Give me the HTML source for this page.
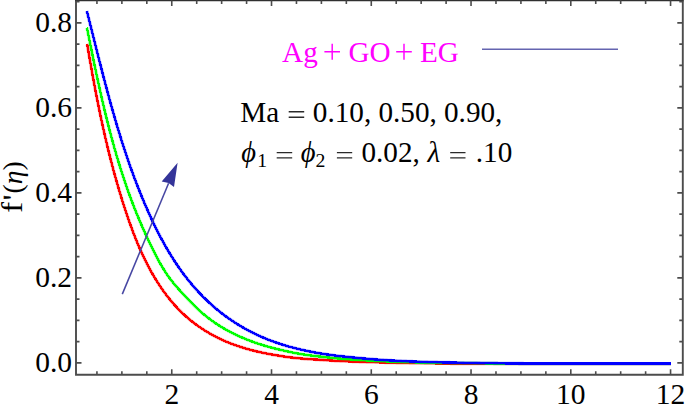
<!DOCTYPE html>
<html><head><meta charset="utf-8"><style>
html,body{margin:0;padding:0;background:#fff;}
svg{display:block;font-family:"Liberation Serif",serif;}
</style></head><body>
<svg width="685" height="405" viewBox="0 0 685 405">
<path d="M76.0,0.4V374.8H682.8V0.4" fill="none" stroke="#4c4c4c" stroke-width="1.9"/>
<path d="M75.05,0.4H683.75" fill="none" stroke="#303030" stroke-width="1.9"/>
<path d="M96.94,374.8v-3.5M96.94,0.4v3.5M121.88,374.8v-3.5M121.88,0.4v3.5M146.82,374.8v-3.5M146.82,0.4v3.5M171.76,374.8v-5.5M171.76,0.4v5.5M196.70,374.8v-3.5M196.70,0.4v3.5M221.64,374.8v-3.5M221.64,0.4v3.5M246.58,374.8v-3.5M246.58,0.4v3.5M271.52,374.8v-5.5M271.52,0.4v5.5M296.46,374.8v-3.5M296.46,0.4v3.5M321.40,374.8v-3.5M321.40,0.4v3.5M346.34,374.8v-3.5M346.34,0.4v3.5M371.28,374.8v-5.5M371.28,0.4v5.5M396.22,374.8v-3.5M396.22,0.4v3.5M421.16,374.8v-3.5M421.16,0.4v3.5M446.10,374.8v-3.5M446.10,0.4v3.5M471.04,374.8v-5.5M471.04,0.4v5.5M495.98,374.8v-3.5M495.98,0.4v3.5M520.92,374.8v-3.5M520.92,0.4v3.5M545.86,374.8v-3.5M545.86,0.4v3.5M570.80,374.8v-5.5M570.80,0.4v5.5M595.74,374.8v-3.5M595.74,0.4v3.5M620.68,374.8v-3.5M620.68,0.4v3.5M645.62,374.8v-3.5M645.62,0.4v3.5M670.56,374.8v-5.5M670.56,0.4v5.5M76.0,362.90h5.5M682.8,362.90h-5.5M76.0,341.65h3.5M682.8,341.65h-3.5M76.0,320.40h3.5M682.8,320.40h-3.5M76.0,299.15h3.5M682.8,299.15h-3.5M76.0,277.90h5.5M682.8,277.90h-5.5M76.0,256.65h3.5M682.8,256.65h-3.5M76.0,235.40h3.5M682.8,235.40h-3.5M76.0,214.15h3.5M682.8,214.15h-3.5M76.0,192.90h5.5M682.8,192.90h-5.5M76.0,171.65h3.5M682.8,171.65h-3.5M76.0,150.40h3.5M682.8,150.40h-3.5M76.0,129.15h3.5M682.8,129.15h-3.5M76.0,107.90h5.5M682.8,107.90h-5.5M76.0,86.65h3.5M682.8,86.65h-3.5M76.0,65.40h3.5M682.8,65.40h-3.5M76.0,44.15h3.5M682.8,44.15h-3.5M76.0,22.90h5.5M682.8,22.90h-5.5M76.0,1.65h3.5M682.8,1.65h-3.5" stroke="#4c4c4c" stroke-width="1.6" fill="none"/>
<path d="M86.80,44.10 L87.29,44.84 L87.44,45.71 L87.59,46.58 L87.73,47.46 L87.88,48.33 L88.03,49.20 L88.18,50.07 L88.33,50.94 L88.48,51.81 L88.63,52.68 L88.78,53.55 L88.93,54.42 L89.08,55.28 L89.23,56.15 L89.38,57.02 L89.53,57.89 L89.68,58.76 L89.83,59.63 L89.98,60.50 L90.13,61.37 L90.29,62.23 L90.44,63.10 L90.59,63.97 L90.75,64.84 L90.90,65.70 L91.05,66.57 L91.21,67.44 L91.36,68.31 L91.52,69.17 L91.67,70.04 L91.83,70.90 L91.98,71.77 L92.14,72.64 L92.30,73.50 L92.45,74.37 L92.61,75.23 L92.77,76.10 L92.93,76.96 L93.09,77.83 L93.25,78.69 L93.40,79.56 L93.56,80.42 L93.72,81.29 L93.88,82.15 L94.05,83.02 L94.21,83.88 L94.37,84.74 L94.53,85.61 L94.69,86.47 L94.86,87.33 L95.02,88.20 L95.18,89.06 L95.35,89.92 L95.51,90.78 L95.68,91.65 L95.84,92.51 L96.01,93.37 L96.18,94.23 L96.35,95.09 L96.51,95.96 L96.68,96.82 L96.85,97.68 L97.02,98.54 L97.19,99.40 L97.36,100.26 L97.53,101.12 L97.70,101.98 L97.87,102.84 L98.04,103.70 L98.22,104.56 L98.39,105.42 L98.56,106.28 L98.74,107.14 L98.91,108.00 L99.09,108.86 L99.26,109.72 L99.44,110.57 L99.62,111.43 L99.80,112.29 L99.97,113.15 L100.15,114.01 L100.33,114.86 L100.51,115.72 L100.69,116.58 L100.87,117.44 L101.06,118.29 L101.24,119.15 L101.42,120.01 L101.61,120.86 L101.79,121.72 L101.97,122.57 L102.16,123.43 L102.35,124.29 L102.53,125.14 L102.72,126.00 L102.91,126.85 L103.10,127.71 L103.29,128.56 L103.48,129.42 L103.67,130.27 L103.86,131.12 L104.05,131.98 L104.24,132.83 L104.44,133.69 L104.63,134.54 L104.83,135.39 L105.02,136.25 L105.22,137.10 L105.41,137.95 L105.61,138.80 L105.81,139.66 L106.01,140.51 L106.21,141.36 L106.41,142.21 L106.61,143.07 L106.81,143.92 L107.02,144.77 L107.22,145.62 L107.42,146.47 L107.63,147.32 L107.84,148.17 L108.04,149.02 L108.25,149.87 L108.46,150.72 L108.67,151.57 L108.88,152.42 L109.09,153.27 L109.30,154.12 L109.51,154.97 L109.72,155.82 L109.94,156.67 L110.15,157.52 L110.37,158.36 L110.58,159.21 L110.80,160.06 L111.02,160.91 L111.24,161.76 L111.46,162.60 L111.68,163.45 L111.90,164.30 L112.12,165.15 L112.34,165.99 L112.57,166.84 L112.79,167.69 L113.02,168.53 L113.24,169.38 L113.47,170.22 L113.70,171.07 L113.93,171.91 L114.16,172.76 L114.39,173.60 L114.62,174.45 L114.85,175.29 L115.09,176.14 L115.32,176.98 L115.56,177.83 L115.79,178.67 L116.03,179.52 L116.27,180.36 L116.51,181.20 L116.75,182.05 L116.99,182.89 L117.23,183.73 L117.47,184.57 L117.72,185.42 L117.96,186.26 L118.21,187.10 L118.46,187.94 L118.70,188.78 L118.95,189.63 L119.20,190.47 L119.45,191.31 L119.71,192.15 L119.96,192.99 L120.21,193.83 L120.47,194.67 L120.72,195.51 L120.98,196.35 L121.24,197.19 L121.50,198.03 L121.76,198.87 L122.02,199.71 L122.28,200.55 L122.55,201.39 L122.81,202.22 L123.08,203.06 L123.34,203.90 L123.61,204.74 L123.88,205.58 L124.15,206.41 L124.42,207.25 L124.69,208.09 L124.96,208.93 L125.24,209.76 L125.51,210.60 L125.79,211.44 L126.07,212.27 L126.35,213.11 L126.63,213.94 L126.91,214.78 L127.19,215.61 L127.47,216.45 L127.76,217.28 L128.05,218.12 L128.33,218.95 L128.62,219.78 L128.91,220.62 L129.20,221.45 L129.50,222.28 L129.79,223.11 L130.09,223.94 L130.39,224.77 L130.69,225.60 L130.99,226.43 L131.29,227.26 L131.59,228.09 L131.90,228.92 L132.21,229.75 L132.52,230.57 L132.83,231.40 L133.14,232.22 L133.45,233.05 L133.77,233.87 L134.09,234.69 L134.41,235.51 L134.73,236.34 L135.05,237.16 L135.38,237.98 L135.70,238.79 L136.03,239.61 L136.36,240.43 L136.70,241.24 L137.03,242.06 L137.37,242.87 L137.71,243.69 L138.05,244.50 L138.39,245.31 L138.74,246.12 L139.08,246.93 L139.43,247.74 L139.78,248.54 L140.14,249.35 L140.49,250.15 L140.85,250.96 L141.21,251.76 L141.58,252.56 L141.94,253.36 L142.31,254.16 L142.68,254.96 L143.05,255.76 L143.43,256.55 L143.81,257.34 L144.19,258.14 L144.57,258.93 L144.95,259.72 L145.34,260.51 L145.73,261.29 L146.12,262.08 L146.52,262.86 L146.92,263.65 L147.32,264.43 L147.72,265.21 L148.13,265.99 L148.53,266.76 L148.95,267.54 L149.36,268.31 L149.78,269.08 L150.20,269.85 L150.62,270.62 L151.05,271.39 L151.47,272.16 L151.91,272.92 L152.34,273.68 L152.78,274.44 L153.22,275.20 L153.66,275.96 L154.11,276.71 L154.56,277.47 L155.01,278.22 L155.47,278.97 L155.92,279.72 L156.39,280.46 L156.85,281.21 L157.32,281.95 L157.79,282.69 L158.27,283.43 L158.74,284.17 L159.22,284.90 L159.71,285.63 L160.20,286.36 L160.69,287.09 L161.18,287.81 L161.68,288.54 L162.18,289.26 L162.69,289.97 L163.19,290.69 L163.70,291.40 L164.22,292.11 L164.74,292.82 L165.26,293.53 L165.78,294.23 L166.31,294.93 L166.84,295.63 L167.38,296.32 L167.91,297.01 L168.46,297.70 L169.00,298.38 L169.55,299.07 L170.10,299.75 L170.66,300.42 L171.22,301.10 L171.78,301.76 L172.35,302.43 L172.92,303.09 L173.49,303.76 L174.07,304.41 L174.65,305.07 L175.24,305.71 L175.83,306.36 L176.42,307.00 L177.01,307.64 L177.61,308.28 L178.22,308.91 L178.82,309.54 L179.43,310.16 L180.05,310.78 L180.67,311.40 L181.29,312.01 L181.92,312.62 L182.54,313.23 L183.18,313.83 L183.82,314.43 L184.46,315.02 L185.10,315.61 L185.75,316.19 L186.40,316.77 L187.06,317.35 L187.72,317.92 L188.39,318.49 L189.05,319.05 L189.72,319.61 L190.40,320.17 L191.08,320.72 L191.76,321.27 L192.45,321.81 L193.14,322.35 L193.83,322.88 L194.52,323.41 L195.22,323.94 L195.93,324.46 L196.63,324.98 L197.34,325.49 L198.05,326.00 L198.77,326.50 L199.49,327.00 L200.21,327.50 L200.93,327.99 L201.66,328.47 L202.39,328.95 L203.13,329.43 L203.86,329.91 L204.60,330.38 L205.35,330.84 L206.09,331.30 L206.84,331.76 L207.59,332.21 L208.34,332.65 L209.10,333.10 L209.86,333.53 L210.62,333.97 L211.38,334.40 L212.15,334.82 L212.92,335.24 L213.69,335.66 L214.46,336.07 L215.24,336.47 L216.02,336.88 L216.80,337.27 L217.58,337.67 L218.37,338.05 L219.16,338.44 L219.94,338.82 L220.74,339.19 L221.53,339.56 L222.33,339.93 L223.12,340.29 L223.92,340.64 L224.73,341.00 L225.53,341.34 L226.34,341.69 L227.14,342.02 L227.95,342.36 L228.76,342.69 L229.58,343.01 L230.39,343.33 L231.21,343.65 L232.03,343.96 L232.85,344.27 L233.67,344.57 L234.49,344.87 L235.32,345.16 L236.14,345.45 L236.97,345.74 L237.80,346.02 L238.63,346.30 L239.46,346.58 L240.30,346.85 L241.13,347.12 L241.97,347.38 L242.80,347.64 L243.64,347.89 L244.48,348.15 L245.33,348.40 L246.17,348.64 L247.01,348.88 L247.86,349.12 L248.70,349.35 L249.55,349.59 L250.40,349.81 L251.25,350.04 L252.10,350.26 L252.95,350.48 L253.81,350.69 L254.66,350.90 L255.51,351.11 L256.37,351.32 L257.23,351.52 L258.08,351.72 L258.94,351.91 L259.80,352.11 L260.66,352.30 L261.52,352.48 L262.38,352.67 L263.24,352.85 L264.11,353.03 L264.97,353.20 L265.83,353.38 L266.70,353.55 L267.56,353.72 L268.43,353.88 L269.29,354.05 L270.16,354.21 L271.03,354.37 L271.89,354.52 L272.76,354.68 L273.63,354.83 L274.50,354.98 L275.37,355.12 L276.24,355.27 L277.11,355.41 L277.98,355.55 L278.85,355.69 L279.71,355.83 L280.58,355.97 L281.46,356.11 L282.33,356.25 L283.20,356.38 L284.07,356.51 L284.94,356.64 L285.81,356.77 L286.68,356.89 L287.55,357.01 L288.42,357.13 L289.29,357.24 L290.16,357.35 L291.04,357.46 L291.91,357.56 L292.78,357.66 L293.65,357.76 L294.52,357.85 L295.40,357.94 L296.27,358.03 L297.14,358.12 L298.01,358.21 L298.89,358.29 L299.76,358.37 L300.63,358.45 L301.50,358.53 L302.38,358.60 L303.25,358.67 L304.12,358.74 L305.00,358.81 L305.87,358.88 L306.74,358.94 L307.62,359.01 L308.49,359.07 L309.37,359.13 L310.24,359.18 L311.11,359.24 L311.99,359.30 L312.86,359.35 L313.74,359.40 L314.61,359.46 L315.49,359.51 L316.36,359.56 L317.24,359.61 L318.11,359.66 L318.99,359.71 L319.86,359.76 L320.74,359.82 L321.61,359.88 L322.49,359.94 L323.36,360.00 L324.24,360.06 L325.11,360.12 L325.99,360.18 L326.86,360.24 L327.74,360.30 L328.62,360.36 L329.49,360.41 L330.37,360.47 L331.24,360.52 L332.12,360.58 L333.00,360.63 L333.87,360.68 L334.75,360.73 L335.63,360.78 L336.50,360.83 L337.38,360.88 L338.26,360.92 L339.13,360.96 L340.01,361.00 L340.89,361.04 L341.76,361.08 L342.64,361.11 L343.52,361.15 L344.39,361.19 L345.27,361.23 L346.15,361.26 L347.02,361.30 L347.90,361.33 L348.78,361.37 L349.66,361.40 L350.53,361.44 L351.41,361.47 L352.29,361.50 L353.17,361.54 L354.04,361.57 L354.92,361.60 L355.80,361.63 L356.68,361.66 L357.55,361.69 L358.43,361.72 L359.31,361.76 L360.19,361.78 L361.07,361.81 L361.94,361.84 L362.82,361.87 L363.70,361.90 L364.58,361.93 L365.45,361.96 L366.33,361.98 L367.21,362.01 L368.09,362.04 L368.97,362.06 L369.85,362.09 L370.72,362.12 L371.60,362.14 L372.48,362.17 L373.36,362.19 L374.24,362.22 L375.11,362.24 L375.99,362.26 L376.87,362.29 L377.75,362.31 L378.63,362.33 L379.51,362.36 L380.38,362.38 L381.26,362.40 L382.14,362.42 L383.02,362.44 L383.90,362.46 L384.77,362.48 L385.65,362.50 L386.53,362.52 L387.41,362.54 L388.29,362.56 L389.17,362.58 L390.04,362.60 L390.92,362.62 L391.80,362.64 L392.68,362.66 L393.56,362.68 L394.44,362.69 L395.31,362.71 L396.19,362.73 L397.07,362.75 L397.95,362.77 L398.83,362.78 L399.70,362.80 L400.58,362.82 L401.46,362.84 L402.34,362.85 L403.22,362.87 L404.09,362.89 L404.97,362.91 L405.85,362.92 L406.73,362.94 L407.61,362.96 L408.49,362.97 L409.36,362.99 L410.24,363.00 L411.12,363.02 L412.00,363.03 L412.88,363.05 L413.75,363.07 L414.63,363.08 L415.51,363.10 L416.39,363.11 L417.27,363.12 L418.14,363.14 L419.02,363.15 L419.90,363.17 L420.78,363.18 L421.66,363.19 L422.53,363.20 L423.41,363.22 L424.29,363.23 L425.17,363.24 L426.05,363.25 L426.92,363.27 L427.80,363.28 L428.68,363.29 L429.56,363.30 L430.44,363.31 L431.31,363.32 L432.19,363.33 L433.07,363.34 L433.95,363.35 L434.83,363.36 L435.70,363.36 L436.58,363.37 L437.46,363.38 L438.34,363.39 L439.21,363.39 L440.09,363.40 L440.97,363.41 L441.85,363.41 L442.73,363.42 L443.60,363.43 L444.48,363.43 L445.36,363.44 L446.24,363.45 L447.12,363.45 L447.99,363.46 L448.87,363.47 L449.75,363.47 L450.63,363.48 L451.51,363.48 L452.38,363.49 L453.26,363.50 L454.14,363.50 L455.02,363.51 L455.89,363.51 L456.77,363.52 L457.65,363.52 L458.53,363.53 L459.41,363.53 L460.28,363.54 L461.16,363.54 L462.04,363.55 L462.92,363.55 L463.79,363.56 L464.67,363.56 L465.55,363.57 L466.43,363.57 L467.31,363.57 L468.18,363.58 L469.06,363.58 L469.94,363.58 L470.82,363.59 L471.69,363.59 L472.57,363.59 L473.45,363.59 L474.33,363.59 L475.21,363.60 L476.08,363.60 L476.96,363.60 L477.84,363.60 L478.72,363.60 L479.59,363.60 L480.47,363.60 L481.35,363.60 L482.23,363.60 L483.11,363.60 L483.98,363.60 L484.86,363.60 L485.74,363.60 L486.62,363.60 L487.49,363.60 L488.37,363.60 L489.25,363.60 L490.13,363.60 L491.01,363.60 L491.88,363.60 L492.76,363.60 L493.64,363.60 L494.52,363.60 L495.39,363.60 L496.27,363.60 L497.15,363.60 L498.03,363.60 L498.91,363.60 L499.78,363.60 L500.66,363.60 L501.54,363.60 L502.42,363.60 L503.29,363.60 L504.17,363.60 L505.05,363.60 L505.93,363.60 L506.80,363.60 L507.68,363.60 L508.56,363.60 L509.44,363.60 L510.32,363.60 L511.19,363.60 L512.07,363.60 L512.95,363.60 L513.83,363.60 L514.70,363.60 L515.58,363.60 L516.46,363.60 L517.34,363.60 L518.22,363.60 L519.09,363.60 L519.97,363.60 L520.85,363.60 L521.73,363.60 L522.60,363.60 L523.48,363.60 L524.36,363.60 L525.24,363.60 L526.12,363.60 L526.99,363.60 L527.87,363.60 L528.75,363.60 L529.63,363.60 L530.50,363.60 L531.38,363.60 L532.26,363.60 L533.14,363.60 L534.01,363.60 L534.89,363.60 L535.77,363.60 L536.65,363.60 L537.53,363.60 L538.40,363.60 L539.28,363.60 L540.16,363.60 L541.04,363.60 L541.91,363.60 L542.79,363.60 L543.67,363.60 L544.55,363.60 L545.43,363.60 L546.30,363.60 L547.18,363.60 L548.06,363.60 L548.94,363.60 L549.82,363.60 L550.69,363.60 L551.57,363.60 L552.45,363.60 L553.33,363.60 L554.20,363.60 L555.08,363.60 L555.96,363.60 L556.84,363.60 L557.72,363.60 L558.59,363.60 L559.47,363.60 L560.35,363.60 L561.23,363.60 L562.10,363.60 L562.98,363.60 L563.86,363.60 L564.74,363.60 L565.62,363.60 L566.49,363.60 L567.37,363.60 L568.25,363.60 L569.13,363.60 L570.01,363.60 L570.88,363.60 L571.76,363.60 L572.64,363.60 L573.52,363.60 L574.39,363.60 L575.27,363.60 L576.15,363.60 L577.03,363.60 L577.91,363.60 L578.78,363.60 L579.66,363.60 L580.54,363.60 L581.42,363.60 L582.30,363.60 L583.17,363.60 L584.05,363.60 L584.93,363.60 L585.81,363.60 L586.69,363.60 L587.56,363.60 L588.44,363.60 L589.32,363.60 L590.20,363.60 L591.08,363.60 L591.95,363.60 L592.83,363.60 L593.71,363.60 L594.59,363.60 L595.47,363.60 L596.34,363.60 L597.22,363.60 L598.10,363.60 L598.98,363.60 L599.86,363.60 L600.73,363.60 L601.61,363.60 L602.49,363.60 L603.37,363.60 L604.25,363.60 L605.12,363.60 L606.00,363.60 L606.88,363.60 L607.76,363.60 L608.64,363.60 L609.51,363.60 L610.39,363.60 L611.27,363.60 L612.15,363.60 L613.03,363.60 L613.91,363.60 L614.78,363.60 L615.66,363.60 L616.54,363.60 L617.42,363.60 L618.30,363.60 L619.17,363.60 L620.05,363.60 L620.93,363.60 L621.81,363.60 L622.69,363.60 L623.57,363.60 L624.44,363.60 L625.32,363.60 L626.20,363.60 L627.08,363.60 L627.96,363.60 L628.83,363.60 L629.71,363.60 L630.59,363.60 L631.47,363.60 L632.35,363.60 L633.23,363.60 L634.10,363.60 L634.98,363.60 L635.86,363.60 L636.74,363.60 L637.62,363.60 L638.50,363.60 L639.37,363.60 L640.25,363.60 L641.13,363.60 L642.01,363.60 L642.89,363.60 L643.77,363.60 L644.64,363.60 L645.52,363.60 L646.40,363.60 L647.28,363.60 L648.16,363.60 L649.04,363.60 L649.92,363.60 L650.79,363.60 L651.67,363.60 L652.55,363.60 L653.43,363.60 L654.31,363.60 L655.19,363.60 L656.06,363.60 L656.94,363.60 L657.82,363.60 L658.70,363.60 L659.58,363.60 L660.46,363.60 L661.34,363.60 L662.21,363.60 L663.09,363.60 L663.97,363.60 L664.85,363.60 L665.73,363.60 L666.61,363.60 L667.49,363.60 L668.37,363.60 L669.24,363.60 L670.12,363.60 L671.00,363.60" stroke="#ff0000" stroke-width="3.3" stroke-opacity="0.4" fill="none" stroke-linejoin="round"/>
<path d="M86.80,44.10 L87.29,44.84 L87.44,45.71 L87.59,46.58 L87.73,47.46 L87.88,48.33 L88.03,49.20 L88.18,50.07 L88.33,50.94 L88.48,51.81 L88.63,52.68 L88.78,53.55 L88.93,54.42 L89.08,55.28 L89.23,56.15 L89.38,57.02 L89.53,57.89 L89.68,58.76 L89.83,59.63 L89.98,60.50 L90.13,61.37 L90.29,62.23 L90.44,63.10 L90.59,63.97 L90.75,64.84 L90.90,65.70 L91.05,66.57 L91.21,67.44 L91.36,68.31 L91.52,69.17 L91.67,70.04 L91.83,70.90 L91.98,71.77 L92.14,72.64 L92.30,73.50 L92.45,74.37 L92.61,75.23 L92.77,76.10 L92.93,76.96 L93.09,77.83 L93.25,78.69 L93.40,79.56 L93.56,80.42 L93.72,81.29 L93.88,82.15 L94.05,83.02 L94.21,83.88 L94.37,84.74 L94.53,85.61 L94.69,86.47 L94.86,87.33 L95.02,88.20 L95.18,89.06 L95.35,89.92 L95.51,90.78 L95.68,91.65 L95.84,92.51 L96.01,93.37 L96.18,94.23 L96.35,95.09 L96.51,95.96 L96.68,96.82 L96.85,97.68 L97.02,98.54 L97.19,99.40 L97.36,100.26 L97.53,101.12 L97.70,101.98 L97.87,102.84 L98.04,103.70 L98.22,104.56 L98.39,105.42 L98.56,106.28 L98.74,107.14 L98.91,108.00 L99.09,108.86 L99.26,109.72 L99.44,110.57 L99.62,111.43 L99.80,112.29 L99.97,113.15 L100.15,114.01 L100.33,114.86 L100.51,115.72 L100.69,116.58 L100.87,117.44 L101.06,118.29 L101.24,119.15 L101.42,120.01 L101.61,120.86 L101.79,121.72 L101.97,122.57 L102.16,123.43 L102.35,124.29 L102.53,125.14 L102.72,126.00 L102.91,126.85 L103.10,127.71 L103.29,128.56 L103.48,129.42 L103.67,130.27 L103.86,131.12 L104.05,131.98 L104.24,132.83 L104.44,133.69 L104.63,134.54 L104.83,135.39 L105.02,136.25 L105.22,137.10 L105.41,137.95 L105.61,138.80 L105.81,139.66 L106.01,140.51 L106.21,141.36 L106.41,142.21 L106.61,143.07 L106.81,143.92 L107.02,144.77 L107.22,145.62 L107.42,146.47 L107.63,147.32 L107.84,148.17 L108.04,149.02 L108.25,149.87 L108.46,150.72 L108.67,151.57 L108.88,152.42 L109.09,153.27 L109.30,154.12 L109.51,154.97 L109.72,155.82 L109.94,156.67 L110.15,157.52 L110.37,158.36 L110.58,159.21 L110.80,160.06 L111.02,160.91 L111.24,161.76 L111.46,162.60 L111.68,163.45 L111.90,164.30 L112.12,165.15 L112.34,165.99 L112.57,166.84 L112.79,167.69 L113.02,168.53 L113.24,169.38 L113.47,170.22 L113.70,171.07 L113.93,171.91 L114.16,172.76 L114.39,173.60 L114.62,174.45 L114.85,175.29 L115.09,176.14 L115.32,176.98 L115.56,177.83 L115.79,178.67 L116.03,179.52 L116.27,180.36 L116.51,181.20 L116.75,182.05 L116.99,182.89 L117.23,183.73 L117.47,184.57 L117.72,185.42 L117.96,186.26 L118.21,187.10 L118.46,187.94 L118.70,188.78 L118.95,189.63 L119.20,190.47 L119.45,191.31 L119.71,192.15 L119.96,192.99 L120.21,193.83 L120.47,194.67 L120.72,195.51 L120.98,196.35 L121.24,197.19 L121.50,198.03 L121.76,198.87 L122.02,199.71 L122.28,200.55 L122.55,201.39 L122.81,202.22 L123.08,203.06 L123.34,203.90 L123.61,204.74 L123.88,205.58 L124.15,206.41 L124.42,207.25 L124.69,208.09 L124.96,208.93 L125.24,209.76 L125.51,210.60 L125.79,211.44 L126.07,212.27 L126.35,213.11 L126.63,213.94 L126.91,214.78 L127.19,215.61 L127.47,216.45 L127.76,217.28 L128.05,218.12 L128.33,218.95 L128.62,219.78 L128.91,220.62 L129.20,221.45 L129.50,222.28 L129.79,223.11 L130.09,223.94 L130.39,224.77 L130.69,225.60 L130.99,226.43 L131.29,227.26 L131.59,228.09 L131.90,228.92 L132.21,229.75 L132.52,230.57 L132.83,231.40 L133.14,232.22 L133.45,233.05 L133.77,233.87 L134.09,234.69 L134.41,235.51 L134.73,236.34 L135.05,237.16 L135.38,237.98 L135.70,238.79 L136.03,239.61 L136.36,240.43 L136.70,241.24 L137.03,242.06 L137.37,242.87 L137.71,243.69 L138.05,244.50 L138.39,245.31 L138.74,246.12 L139.08,246.93 L139.43,247.74 L139.78,248.54 L140.14,249.35 L140.49,250.15 L140.85,250.96 L141.21,251.76 L141.58,252.56 L141.94,253.36 L142.31,254.16 L142.68,254.96 L143.05,255.76 L143.43,256.55 L143.81,257.34 L144.19,258.14 L144.57,258.93 L144.95,259.72 L145.34,260.51 L145.73,261.29 L146.12,262.08 L146.52,262.86 L146.92,263.65 L147.32,264.43 L147.72,265.21 L148.13,265.99 L148.53,266.76 L148.95,267.54 L149.36,268.31 L149.78,269.08 L150.20,269.85 L150.62,270.62 L151.05,271.39 L151.47,272.16 L151.91,272.92 L152.34,273.68 L152.78,274.44 L153.22,275.20 L153.66,275.96 L154.11,276.71 L154.56,277.47 L155.01,278.22 L155.47,278.97 L155.92,279.72 L156.39,280.46 L156.85,281.21 L157.32,281.95 L157.79,282.69 L158.27,283.43 L158.74,284.17 L159.22,284.90 L159.71,285.63 L160.20,286.36 L160.69,287.09 L161.18,287.81 L161.68,288.54 L162.18,289.26 L162.69,289.97 L163.19,290.69 L163.70,291.40 L164.22,292.11 L164.74,292.82 L165.26,293.53 L165.78,294.23 L166.31,294.93 L166.84,295.63 L167.38,296.32 L167.91,297.01 L168.46,297.70 L169.00,298.38 L169.55,299.07 L170.10,299.75 L170.66,300.42 L171.22,301.10 L171.78,301.76 L172.35,302.43 L172.92,303.09 L173.49,303.76 L174.07,304.41 L174.65,305.07 L175.24,305.71 L175.83,306.36 L176.42,307.00 L177.01,307.64 L177.61,308.28 L178.22,308.91 L178.82,309.54 L179.43,310.16 L180.05,310.78 L180.67,311.40 L181.29,312.01 L181.92,312.62 L182.54,313.23 L183.18,313.83 L183.82,314.43 L184.46,315.02 L185.10,315.61 L185.75,316.19 L186.40,316.77 L187.06,317.35 L187.72,317.92 L188.39,318.49 L189.05,319.05 L189.72,319.61 L190.40,320.17 L191.08,320.72 L191.76,321.27 L192.45,321.81 L193.14,322.35 L193.83,322.88 L194.52,323.41 L195.22,323.94 L195.93,324.46 L196.63,324.98 L197.34,325.49 L198.05,326.00 L198.77,326.50 L199.49,327.00 L200.21,327.50 L200.93,327.99 L201.66,328.47 L202.39,328.95 L203.13,329.43 L203.86,329.91 L204.60,330.38 L205.35,330.84 L206.09,331.30 L206.84,331.76 L207.59,332.21 L208.34,332.65 L209.10,333.10 L209.86,333.53 L210.62,333.97 L211.38,334.40 L212.15,334.82 L212.92,335.24 L213.69,335.66 L214.46,336.07 L215.24,336.47 L216.02,336.88 L216.80,337.27 L217.58,337.67 L218.37,338.05 L219.16,338.44 L219.94,338.82 L220.74,339.19 L221.53,339.56 L222.33,339.93 L223.12,340.29 L223.92,340.64 L224.73,341.00 L225.53,341.34 L226.34,341.69 L227.14,342.02 L227.95,342.36 L228.76,342.69 L229.58,343.01 L230.39,343.33 L231.21,343.65 L232.03,343.96 L232.85,344.27 L233.67,344.57 L234.49,344.87 L235.32,345.16 L236.14,345.45 L236.97,345.74 L237.80,346.02 L238.63,346.30 L239.46,346.58 L240.30,346.85 L241.13,347.12 L241.97,347.38 L242.80,347.64 L243.64,347.89 L244.48,348.15 L245.33,348.40 L246.17,348.64 L247.01,348.88 L247.86,349.12 L248.70,349.35 L249.55,349.59 L250.40,349.81 L251.25,350.04 L252.10,350.26 L252.95,350.48 L253.81,350.69 L254.66,350.90 L255.51,351.11 L256.37,351.32 L257.23,351.52 L258.08,351.72 L258.94,351.91 L259.80,352.11 L260.66,352.30 L261.52,352.48 L262.38,352.67 L263.24,352.85 L264.11,353.03 L264.97,353.20 L265.83,353.38 L266.70,353.55 L267.56,353.72 L268.43,353.88 L269.29,354.05 L270.16,354.21 L271.03,354.37 L271.89,354.52 L272.76,354.68 L273.63,354.83 L274.50,354.98 L275.37,355.12 L276.24,355.27 L277.11,355.41 L277.98,355.55 L278.85,355.69 L279.71,355.83 L280.58,355.97 L281.46,356.11 L282.33,356.25 L283.20,356.38 L284.07,356.51 L284.94,356.64 L285.81,356.77 L286.68,356.89 L287.55,357.01 L288.42,357.13 L289.29,357.24 L290.16,357.35 L291.04,357.46 L291.91,357.56 L292.78,357.66 L293.65,357.76 L294.52,357.85 L295.40,357.94 L296.27,358.03 L297.14,358.12 L298.01,358.21 L298.89,358.29 L299.76,358.37 L300.63,358.45 L301.50,358.53 L302.38,358.60 L303.25,358.67 L304.12,358.74 L305.00,358.81 L305.87,358.88 L306.74,358.94 L307.62,359.01 L308.49,359.07 L309.37,359.13 L310.24,359.18 L311.11,359.24 L311.99,359.30 L312.86,359.35 L313.74,359.40 L314.61,359.46 L315.49,359.51 L316.36,359.56 L317.24,359.61 L318.11,359.66 L318.99,359.71 L319.86,359.76 L320.74,359.82 L321.61,359.88 L322.49,359.94 L323.36,360.00 L324.24,360.06 L325.11,360.12 L325.99,360.18 L326.86,360.24 L327.74,360.30 L328.62,360.36 L329.49,360.41 L330.37,360.47 L331.24,360.52 L332.12,360.58 L333.00,360.63 L333.87,360.68 L334.75,360.73 L335.63,360.78 L336.50,360.83 L337.38,360.88 L338.26,360.92 L339.13,360.96 L340.01,361.00 L340.89,361.04 L341.76,361.08 L342.64,361.11 L343.52,361.15 L344.39,361.19 L345.27,361.23 L346.15,361.26 L347.02,361.30 L347.90,361.33 L348.78,361.37 L349.66,361.40 L350.53,361.44 L351.41,361.47 L352.29,361.50 L353.17,361.54 L354.04,361.57 L354.92,361.60 L355.80,361.63 L356.68,361.66 L357.55,361.69 L358.43,361.72 L359.31,361.76 L360.19,361.78 L361.07,361.81 L361.94,361.84 L362.82,361.87 L363.70,361.90 L364.58,361.93 L365.45,361.96 L366.33,361.98 L367.21,362.01 L368.09,362.04 L368.97,362.06 L369.85,362.09 L370.72,362.12 L371.60,362.14 L372.48,362.17 L373.36,362.19 L374.24,362.22 L375.11,362.24 L375.99,362.26 L376.87,362.29 L377.75,362.31 L378.63,362.33 L379.51,362.36 L380.38,362.38 L381.26,362.40 L382.14,362.42 L383.02,362.44 L383.90,362.46 L384.77,362.48 L385.65,362.50 L386.53,362.52 L387.41,362.54 L388.29,362.56 L389.17,362.58 L390.04,362.60 L390.92,362.62 L391.80,362.64 L392.68,362.66 L393.56,362.68 L394.44,362.69 L395.31,362.71 L396.19,362.73 L397.07,362.75 L397.95,362.77 L398.83,362.78 L399.70,362.80 L400.58,362.82 L401.46,362.84 L402.34,362.85 L403.22,362.87 L404.09,362.89 L404.97,362.91 L405.85,362.92 L406.73,362.94 L407.61,362.96 L408.49,362.97 L409.36,362.99 L410.24,363.00 L411.12,363.02 L412.00,363.03 L412.88,363.05 L413.75,363.07 L414.63,363.08 L415.51,363.10 L416.39,363.11 L417.27,363.12 L418.14,363.14 L419.02,363.15 L419.90,363.17 L420.78,363.18 L421.66,363.19 L422.53,363.20 L423.41,363.22 L424.29,363.23 L425.17,363.24 L426.05,363.25 L426.92,363.27 L427.80,363.28 L428.68,363.29 L429.56,363.30 L430.44,363.31 L431.31,363.32 L432.19,363.33 L433.07,363.34 L433.95,363.35 L434.83,363.36 L435.70,363.36 L436.58,363.37 L437.46,363.38 L438.34,363.39 L439.21,363.39 L440.09,363.40 L440.97,363.41 L441.85,363.41 L442.73,363.42 L443.60,363.43 L444.48,363.43 L445.36,363.44 L446.24,363.45 L447.12,363.45 L447.99,363.46 L448.87,363.47 L449.75,363.47 L450.63,363.48 L451.51,363.48 L452.38,363.49 L453.26,363.50 L454.14,363.50 L455.02,363.51 L455.89,363.51 L456.77,363.52 L457.65,363.52 L458.53,363.53 L459.41,363.53 L460.28,363.54 L461.16,363.54 L462.04,363.55 L462.92,363.55 L463.79,363.56 L464.67,363.56 L465.55,363.57 L466.43,363.57 L467.31,363.57 L468.18,363.58 L469.06,363.58 L469.94,363.58 L470.82,363.59 L471.69,363.59 L472.57,363.59 L473.45,363.59 L474.33,363.59 L475.21,363.60 L476.08,363.60 L476.96,363.60 L477.84,363.60 L478.72,363.60 L479.59,363.60 L480.47,363.60 L481.35,363.60 L482.23,363.60 L483.11,363.60 L483.98,363.60 L484.86,363.60 L485.74,363.60 L486.62,363.60 L487.49,363.60 L488.37,363.60 L489.25,363.60 L490.13,363.60 L491.01,363.60 L491.88,363.60 L492.76,363.60 L493.64,363.60 L494.52,363.60 L495.39,363.60 L496.27,363.60 L497.15,363.60 L498.03,363.60 L498.91,363.60 L499.78,363.60 L500.66,363.60 L501.54,363.60 L502.42,363.60 L503.29,363.60 L504.17,363.60 L505.05,363.60 L505.93,363.60 L506.80,363.60 L507.68,363.60 L508.56,363.60 L509.44,363.60 L510.32,363.60 L511.19,363.60 L512.07,363.60 L512.95,363.60 L513.83,363.60 L514.70,363.60 L515.58,363.60 L516.46,363.60 L517.34,363.60 L518.22,363.60 L519.09,363.60 L519.97,363.60 L520.85,363.60 L521.73,363.60 L522.60,363.60 L523.48,363.60 L524.36,363.60 L525.24,363.60 L526.12,363.60 L526.99,363.60 L527.87,363.60 L528.75,363.60 L529.63,363.60 L530.50,363.60 L531.38,363.60 L532.26,363.60 L533.14,363.60 L534.01,363.60 L534.89,363.60 L535.77,363.60 L536.65,363.60 L537.53,363.60 L538.40,363.60 L539.28,363.60 L540.16,363.60 L541.04,363.60 L541.91,363.60 L542.79,363.60 L543.67,363.60 L544.55,363.60 L545.43,363.60 L546.30,363.60 L547.18,363.60 L548.06,363.60 L548.94,363.60 L549.82,363.60 L550.69,363.60 L551.57,363.60 L552.45,363.60 L553.33,363.60 L554.20,363.60 L555.08,363.60 L555.96,363.60 L556.84,363.60 L557.72,363.60 L558.59,363.60 L559.47,363.60 L560.35,363.60 L561.23,363.60 L562.10,363.60 L562.98,363.60 L563.86,363.60 L564.74,363.60 L565.62,363.60 L566.49,363.60 L567.37,363.60 L568.25,363.60 L569.13,363.60 L570.01,363.60 L570.88,363.60 L571.76,363.60 L572.64,363.60 L573.52,363.60 L574.39,363.60 L575.27,363.60 L576.15,363.60 L577.03,363.60 L577.91,363.60 L578.78,363.60 L579.66,363.60 L580.54,363.60 L581.42,363.60 L582.30,363.60 L583.17,363.60 L584.05,363.60 L584.93,363.60 L585.81,363.60 L586.69,363.60 L587.56,363.60 L588.44,363.60 L589.32,363.60 L590.20,363.60 L591.08,363.60 L591.95,363.60 L592.83,363.60 L593.71,363.60 L594.59,363.60 L595.47,363.60 L596.34,363.60 L597.22,363.60 L598.10,363.60 L598.98,363.60 L599.86,363.60 L600.73,363.60 L601.61,363.60 L602.49,363.60 L603.37,363.60 L604.25,363.60 L605.12,363.60 L606.00,363.60 L606.88,363.60 L607.76,363.60 L608.64,363.60 L609.51,363.60 L610.39,363.60 L611.27,363.60 L612.15,363.60 L613.03,363.60 L613.91,363.60 L614.78,363.60 L615.66,363.60 L616.54,363.60 L617.42,363.60 L618.30,363.60 L619.17,363.60 L620.05,363.60 L620.93,363.60 L621.81,363.60 L622.69,363.60 L623.57,363.60 L624.44,363.60 L625.32,363.60 L626.20,363.60 L627.08,363.60 L627.96,363.60 L628.83,363.60 L629.71,363.60 L630.59,363.60 L631.47,363.60 L632.35,363.60 L633.23,363.60 L634.10,363.60 L634.98,363.60 L635.86,363.60 L636.74,363.60 L637.62,363.60 L638.50,363.60 L639.37,363.60 L640.25,363.60 L641.13,363.60 L642.01,363.60 L642.89,363.60 L643.77,363.60 L644.64,363.60 L645.52,363.60 L646.40,363.60 L647.28,363.60 L648.16,363.60 L649.04,363.60 L649.92,363.60 L650.79,363.60 L651.67,363.60 L652.55,363.60 L653.43,363.60 L654.31,363.60 L655.19,363.60 L656.06,363.60 L656.94,363.60 L657.82,363.60 L658.70,363.60 L659.58,363.60 L660.46,363.60 L661.34,363.60 L662.21,363.60 L663.09,363.60 L663.97,363.60 L664.85,363.60 L665.73,363.60 L666.61,363.60 L667.49,363.60 L668.37,363.60 L669.24,363.60 L670.12,363.60 L671.00,363.60" stroke="#ff0000" stroke-width="2.3" fill="none" stroke-linejoin="round" shape-rendering="crispEdges"/>
<path d="M86.80,27.70 L87.10,28.54 L87.27,29.40 L87.44,30.26 L87.62,31.13 L87.79,31.99 L87.96,32.85 L88.14,33.72 L88.31,34.58 L88.49,35.44 L88.66,36.31 L88.83,37.17 L89.01,38.03 L89.18,38.90 L89.36,39.76 L89.53,40.62 L89.71,41.49 L89.88,42.35 L90.06,43.21 L90.23,44.08 L90.41,44.94 L90.58,45.81 L90.76,46.67 L90.93,47.53 L91.11,48.40 L91.28,49.26 L91.46,50.12 L91.64,50.99 L91.81,51.85 L91.99,52.71 L92.17,53.58 L92.34,54.44 L92.52,55.30 L92.70,56.17 L92.88,57.03 L93.06,57.89 L93.23,58.76 L93.41,59.62 L93.59,60.48 L93.77,61.35 L93.95,62.21 L94.13,63.07 L94.31,63.93 L94.49,64.80 L94.67,65.66 L94.85,66.52 L95.03,67.39 L95.21,68.25 L95.40,69.11 L95.58,69.97 L95.76,70.84 L95.94,71.70 L96.13,72.56 L96.31,73.42 L96.50,74.29 L96.68,75.15 L96.86,76.01 L97.05,76.87 L97.23,77.73 L97.42,78.60 L97.61,79.46 L97.79,80.32 L97.98,81.18 L98.17,82.04 L98.36,82.90 L98.55,83.76 L98.73,84.62 L98.92,85.49 L99.11,86.35 L99.30,87.21 L99.49,88.07 L99.69,88.93 L99.88,89.79 L100.07,90.65 L100.26,91.51 L100.46,92.37 L100.65,93.23 L100.84,94.09 L101.04,94.95 L101.23,95.81 L101.43,96.67 L101.63,97.53 L101.82,98.39 L102.02,99.25 L102.22,100.10 L102.42,100.96 L102.62,101.82 L102.82,102.68 L103.02,103.54 L103.22,104.40 L103.42,105.25 L103.62,106.11 L103.82,106.97 L104.03,107.83 L104.23,108.68 L104.43,109.54 L104.64,110.40 L104.85,111.26 L105.05,112.11 L105.26,112.97 L105.47,113.82 L105.68,114.68 L105.88,115.54 L106.09,116.39 L106.30,117.25 L106.52,118.10 L106.73,118.96 L106.94,119.81 L107.15,120.67 L107.37,121.52 L107.58,122.38 L107.80,123.23 L108.01,124.08 L108.23,124.94 L108.45,125.79 L108.67,126.64 L108.89,127.50 L109.11,128.35 L109.33,129.20 L109.55,130.06 L109.77,130.91 L109.99,131.76 L110.22,132.61 L110.44,133.46 L110.67,134.31 L110.90,135.16 L111.12,136.01 L111.35,136.87 L111.58,137.72 L111.81,138.57 L112.04,139.42 L112.27,140.26 L112.50,141.11 L112.74,141.96 L112.97,142.81 L113.21,143.66 L113.44,144.51 L113.68,145.36 L113.92,146.20 L114.16,147.05 L114.39,147.90 L114.64,148.74 L114.88,149.59 L115.12,150.44 L115.36,151.28 L115.61,152.13 L115.85,152.97 L116.10,153.82 L116.34,154.66 L116.59,155.51 L116.84,156.35 L117.09,157.20 L117.34,158.04 L117.59,158.88 L117.85,159.73 L118.10,160.57 L118.36,161.41 L118.61,162.25 L118.87,163.10 L119.13,163.94 L119.39,164.78 L119.65,165.62 L119.91,166.46 L120.17,167.30 L120.43,168.14 L120.70,168.98 L120.96,169.82 L121.23,170.66 L121.50,171.50 L121.77,172.33 L122.04,173.17 L122.31,174.01 L122.58,174.85 L122.85,175.68 L123.13,176.52 L123.41,177.36 L123.68,178.19 L123.96,179.03 L124.24,179.86 L124.52,180.70 L124.80,181.53 L125.08,182.37 L125.37,183.20 L125.65,184.03 L125.94,184.87 L126.23,185.70 L126.51,186.53 L126.80,187.36 L127.10,188.19 L127.39,189.02 L127.68,189.85 L127.98,190.68 L128.27,191.51 L128.57,192.34 L128.87,193.17 L129.17,194.00 L129.47,194.83 L129.77,195.66 L130.07,196.48 L130.38,197.31 L130.69,198.14 L130.99,198.96 L131.30,199.79 L131.61,200.62 L131.92,201.44 L132.24,202.26 L132.55,203.09 L132.87,203.91 L133.18,204.74 L133.50,205.56 L133.82,206.38 L134.14,207.20 L134.46,208.02 L134.79,208.84 L135.11,209.67 L135.44,210.49 L135.77,211.31 L136.10,212.12 L136.43,212.94 L136.76,213.76 L137.09,214.58 L137.43,215.40 L137.77,216.21 L138.10,217.03 L138.44,217.85 L138.78,218.66 L139.12,219.48 L139.47,220.29 L139.81,221.10 L140.16,221.92 L140.51,222.73 L140.85,223.54 L141.20,224.35 L141.56,225.16 L141.91,225.97 L142.26,226.78 L142.62,227.59 L142.97,228.40 L143.33,229.21 L143.69,230.02 L144.05,230.82 L144.42,231.63 L144.78,232.43 L145.14,233.24 L145.51,234.04 L145.88,234.85 L146.25,235.65 L146.62,236.45 L146.99,237.25 L147.36,238.05 L147.74,238.85 L148.11,239.65 L148.49,240.45 L148.87,241.25 L149.25,242.04 L149.63,242.84 L150.01,243.64 L150.39,244.43 L150.78,245.22 L151.17,246.02 L151.55,246.81 L151.94,247.60 L152.33,248.39 L152.72,249.18 L153.12,249.97 L153.51,250.76 L153.91,251.55 L154.30,252.33 L154.70,253.12 L155.10,253.90 L155.51,254.69 L155.91,255.47 L156.32,256.25 L156.72,257.03 L157.13,257.80 L157.55,258.58 L157.96,259.35 L158.38,260.12 L158.80,260.89 L159.22,261.66 L159.65,262.43 L160.08,263.19 L160.51,263.95 L160.94,264.71 L161.38,265.47 L161.82,266.22 L162.27,266.97 L162.71,267.72 L163.17,268.47 L163.62,269.21 L164.08,269.95 L164.54,270.68 L165.01,271.42 L165.48,272.15 L165.96,272.87 L166.44,273.60 L166.92,274.32 L167.41,275.03 L167.90,275.74 L168.40,276.45 L168.90,277.16 L169.41,277.86 L169.93,278.55 L170.44,279.25 L170.97,279.93 L171.50,280.62 L172.03,281.30 L172.57,281.98 L173.11,282.65 L173.66,283.32 L174.21,283.99 L174.77,284.65 L175.33,285.31 L175.89,285.97 L176.46,286.63 L177.03,287.29 L177.60,287.94 L178.18,288.59 L178.76,289.24 L179.35,289.89 L179.94,290.54 L180.53,291.19 L181.12,291.84 L181.72,292.49 L182.32,293.14 L182.92,293.79 L183.52,294.44 L184.13,295.09 L184.73,295.74 L185.34,296.39 L185.95,297.04 L186.57,297.69 L187.18,298.35 L187.80,299.00 L188.42,299.65 L189.04,300.30 L189.66,300.95 L190.29,301.60 L190.91,302.25 L191.54,302.90 L192.18,303.54 L192.81,304.18 L193.45,304.82 L194.09,305.46 L194.73,306.09 L195.37,306.73 L196.02,307.35 L196.67,307.98 L197.32,308.60 L197.98,309.21 L198.64,309.83 L199.30,310.43 L199.96,311.04 L200.63,311.63 L201.30,312.23 L201.97,312.81 L202.65,313.40 L203.32,313.97 L204.01,314.55 L204.69,315.11 L205.38,315.67 L206.07,316.23 L206.76,316.78 L207.45,317.33 L208.15,317.87 L208.85,318.41 L209.55,318.94 L210.26,319.47 L210.97,319.99 L211.68,320.51 L212.39,321.02 L213.11,321.53 L213.83,322.03 L214.55,322.53 L215.27,323.02 L216.00,323.51 L216.73,324.00 L217.46,324.48 L218.19,324.95 L218.93,325.42 L219.67,325.89 L220.41,326.35 L221.15,326.81 L221.90,327.26 L222.64,327.71 L223.39,328.15 L224.15,328.59 L224.90,329.02 L225.66,329.45 L226.42,329.88 L227.18,330.30 L227.94,330.72 L228.71,331.13 L229.47,331.54 L230.24,331.95 L231.02,332.35 L231.79,332.75 L232.57,333.14 L233.34,333.53 L234.12,333.91 L234.91,334.29 L235.69,334.67 L236.48,335.04 L237.26,335.41 L238.05,335.78 L238.85,336.14 L239.64,336.49 L240.43,336.85 L241.23,337.20 L242.03,337.54 L242.83,337.88 L243.63,338.22 L244.44,338.56 L245.24,338.89 L246.05,339.22 L246.86,339.54 L247.67,339.86 L248.49,340.18 L249.30,340.49 L250.12,340.80 L250.93,341.10 L251.75,341.41 L252.57,341.71 L253.40,342.00 L254.22,342.29 L255.04,342.58 L255.87,342.87 L256.70,343.15 L257.53,343.43 L258.36,343.71 L259.19,343.98 L260.03,344.25 L260.86,344.51 L261.70,344.78 L262.54,345.04 L263.37,345.29 L264.21,345.55 L265.06,345.80 L265.90,346.05 L266.74,346.29 L267.59,346.53 L268.43,346.77 L269.28,347.01 L270.13,347.24 L270.98,347.47 L271.83,347.70 L272.68,347.93 L273.53,348.15 L274.39,348.37 L275.24,348.58 L276.10,348.80 L276.95,349.01 L277.81,349.22 L278.67,349.42 L279.53,349.63 L280.39,349.83 L281.25,350.03 L282.11,350.24 L282.98,350.44 L283.84,350.63 L284.70,350.83 L285.57,351.02 L286.44,351.22 L287.30,351.41 L288.17,351.59 L289.04,351.78 L289.91,351.97 L290.77,352.15 L291.64,352.33 L292.52,352.51 L293.39,352.68 L294.26,352.86 L295.13,353.03 L296.00,353.19 L296.88,353.36 L297.75,353.52 L298.62,353.67 L299.50,353.83 L300.37,353.97 L301.25,354.12 L302.12,354.26 L303.00,354.40 L303.88,354.54 L304.75,354.67 L305.63,354.80 L306.51,354.92 L307.38,355.05 L308.26,355.17 L309.14,355.28 L310.02,355.40 L310.90,355.51 L311.77,355.62 L312.65,355.73 L313.53,355.83 L314.41,355.94 L315.29,356.04 L316.17,356.14 L317.05,356.24 L317.93,356.34 L318.80,356.44 L319.68,356.54 L320.56,356.64 L321.44,356.74 L322.32,356.84 L323.20,356.94 L324.08,357.04 L324.96,357.14 L325.83,357.23 L326.71,357.33 L327.59,357.43 L328.47,357.52 L329.35,357.61 L330.23,357.70 L331.11,357.79 L331.99,357.88 L332.87,357.97 L333.74,358.06 L334.62,358.14 L335.50,358.22 L336.38,358.30 L337.26,358.38 L338.14,358.45 L339.02,358.52 L339.90,358.59 L340.77,358.66 L341.65,358.73 L342.53,358.79 L343.41,358.86 L344.29,358.92 L345.17,358.99 L346.05,359.05 L346.93,359.11 L347.80,359.18 L348.68,359.24 L349.56,359.30 L350.44,359.36 L351.32,359.42 L352.20,359.48 L353.08,359.54 L353.96,359.60 L354.83,359.66 L355.71,359.71 L356.59,359.77 L357.47,359.83 L358.35,359.88 L359.23,359.94 L360.11,359.99 L360.99,360.05 L361.86,360.10 L362.74,360.15 L363.62,360.20 L364.50,360.26 L365.38,360.31 L366.26,360.36 L367.14,360.41 L368.02,360.46 L368.89,360.50 L369.77,360.55 L370.65,360.60 L371.53,360.65 L372.41,360.69 L373.29,360.74 L374.17,360.78 L375.05,360.83 L375.93,360.87 L376.80,360.92 L377.68,360.96 L378.56,361.00 L379.44,361.04 L380.32,361.08 L381.20,361.12 L382.08,361.16 L382.96,361.20 L383.84,361.24 L384.71,361.28 L385.59,361.32 L386.47,361.36 L387.35,361.39 L388.23,361.43 L389.11,361.46 L389.99,361.50 L390.87,361.53 L391.75,361.57 L392.63,361.60 L393.50,361.64 L394.38,361.67 L395.26,361.70 L396.14,361.74 L397.02,361.77 L397.90,361.80 L398.78,361.83 L399.66,361.86 L400.54,361.89 L401.42,361.93 L402.30,361.96 L403.17,361.99 L404.05,362.02 L404.93,362.04 L405.81,362.07 L406.69,362.10 L407.57,362.13 L408.45,362.16 L409.33,362.18 L410.21,362.21 L411.09,362.24 L411.97,362.26 L412.85,362.29 L413.73,362.31 L414.61,362.34 L415.48,362.36 L416.36,362.38 L417.24,362.41 L418.12,362.43 L419.00,362.45 L419.88,362.47 L420.76,362.49 L421.64,362.51 L422.52,362.53 L423.40,362.55 L424.28,362.57 L425.16,362.58 L426.04,362.60 L426.92,362.62 L427.80,362.63 L428.68,362.65 L429.56,362.66 L430.44,362.68 L431.32,362.69 L432.20,362.71 L433.08,362.72 L433.96,362.74 L434.84,362.75 L435.72,362.77 L436.60,362.78 L437.48,362.79 L438.36,362.81 L439.24,362.82 L440.12,362.83 L441.00,362.84 L441.88,362.86 L442.76,362.87 L443.64,362.88 L444.52,362.89 L445.40,362.91 L446.28,362.92 L447.16,362.93 L448.04,362.94 L448.92,362.95 L449.80,362.96 L450.68,362.97 L451.56,362.98 L452.44,362.99 L453.32,363.00 L454.20,363.02 L455.08,363.03 L455.96,363.04 L456.84,363.05 L457.72,363.06 L458.60,363.07 L459.48,363.08 L460.36,363.09 L461.24,363.10 L462.12,363.11 L463.00,363.12 L463.88,363.12 L464.76,363.13 L465.65,363.14 L466.53,363.15 L467.41,363.16 L468.29,363.17 L469.17,363.18 L470.05,363.19 L470.93,363.20 L471.81,363.21 L472.69,363.22 L473.57,363.23 L474.45,363.24 L475.33,363.25 L476.22,363.26 L477.10,363.27 L477.98,363.28 L478.86,363.29 L479.74,363.30 L480.62,363.31 L481.50,363.32 L482.38,363.33 L483.27,363.34 L484.15,363.35 L485.03,363.36 L485.91,363.37 L486.79,363.38 L487.67,363.40 L488.55,363.41 L489.44,363.42 L490.32,363.43 L491.20,363.44 L492.08,363.45 L492.96,363.47 L493.84,363.48 L494.73,363.49 L495.61,363.50 L496.49,363.51 L497.37,363.52 L498.25,363.53 L499.13,363.54 L500.02,363.55 L500.90,363.56 L501.78,363.56 L502.66,363.57 L503.54,363.58 L504.43,363.58 L505.31,363.59 L506.19,363.59 L507.07,363.59 L507.95,363.60 L508.84,363.60 L509.72,363.60 L510.60,363.60 L511.48,363.60 L512.36,363.60 L513.25,363.60 L514.13,363.60 L515.01,363.60 L515.89,363.60 L516.77,363.60 L517.66,363.60 L518.54,363.60 L519.42,363.60 L520.30,363.60 L521.19,363.60 L522.07,363.60 L522.95,363.60 L523.83,363.60 L524.72,363.60 L525.60,363.60 L526.48,363.60 L527.36,363.60 L528.24,363.60 L529.13,363.60 L530.01,363.60 L530.89,363.60 L531.77,363.60 L532.66,363.60 L533.54,363.60 L534.42,363.60 L535.30,363.60 L536.19,363.60 L537.07,363.60 L537.95,363.60 L538.83,363.60 L539.72,363.60 L540.60,363.60 L541.48,363.60 L542.36,363.60 L543.25,363.60 L544.13,363.60 L545.01,363.60 L545.89,363.60 L546.78,363.60 L547.66,363.60 L548.54,363.60 L549.42,363.60 L550.30,363.60 L551.19,363.60 L552.07,363.60 L552.95,363.60 L553.83,363.60 L554.72,363.60 L555.60,363.60 L556.48,363.60 L557.36,363.60 L558.25,363.60 L559.13,363.60 L560.01,363.60 L560.89,363.60 L561.78,363.60 L562.66,363.60 L563.54,363.60 L564.42,363.60 L565.31,363.60 L566.19,363.60 L567.07,363.60 L567.95,363.60 L568.84,363.60 L569.72,363.60 L570.60,363.60 L571.48,363.60 L572.36,363.60 L573.25,363.60 L574.13,363.60 L575.01,363.60 L575.89,363.60 L576.78,363.60 L577.66,363.60 L578.54,363.60 L579.42,363.60 L580.30,363.60 L581.19,363.60 L582.07,363.60 L582.95,363.60 L583.83,363.60 L584.71,363.60 L585.60,363.60 L586.48,363.60 L587.36,363.60 L588.24,363.60 L589.12,363.60 L590.01,363.60 L590.89,363.60 L591.77,363.60 L592.65,363.60 L593.53,363.60 L594.42,363.60 L595.30,363.60 L596.18,363.60 L597.06,363.60 L597.94,363.60 L598.82,363.60 L599.71,363.60 L600.59,363.60 L601.47,363.60 L602.35,363.60 L603.23,363.60 L604.11,363.60 L605.00,363.60 L605.88,363.60 L606.76,363.60 L607.64,363.60 L608.52,363.60 L609.40,363.60 L610.28,363.60 L611.17,363.60 L612.05,363.60 L612.93,363.60 L613.81,363.60 L614.69,363.60 L615.57,363.60 L616.45,363.60 L617.33,363.60 L618.21,363.60 L619.10,363.60 L619.98,363.60 L620.86,363.60 L621.74,363.60 L622.62,363.60 L623.50,363.60 L624.38,363.60 L625.26,363.60 L626.14,363.60 L627.02,363.60 L627.90,363.60 L628.78,363.60 L629.66,363.60 L630.55,363.60 L631.43,363.60 L632.31,363.60 L633.19,363.60 L634.07,363.60 L634.95,363.60 L635.83,363.60 L636.71,363.60 L637.59,363.60 L638.47,363.60 L639.35,363.60 L640.23,363.60 L641.11,363.60 L641.99,363.60 L642.87,363.60 L643.75,363.60 L644.63,363.60 L645.51,363.60 L646.39,363.60 L647.27,363.60 L648.15,363.60 L649.03,363.60 L649.91,363.60 L650.78,363.60 L651.66,363.60 L652.54,363.60 L653.42,363.60 L654.30,363.60 L655.18,363.60 L656.06,363.60 L656.94,363.60 L657.82,363.60 L658.70,363.60 L659.58,363.60 L660.46,363.60 L661.33,363.60 L662.21,363.60 L663.09,363.60 L663.97,363.60 L664.85,363.60 L665.73,363.60 L666.61,363.60 L667.48,363.60 L668.36,363.60 L669.24,363.60 L670.12,363.60 L671.00,363.60" stroke="#00ff00" stroke-width="3.3" stroke-opacity="0.4" fill="none" stroke-linejoin="round"/>
<path d="M86.80,27.70 L87.10,28.54 L87.27,29.40 L87.44,30.26 L87.62,31.13 L87.79,31.99 L87.96,32.85 L88.14,33.72 L88.31,34.58 L88.49,35.44 L88.66,36.31 L88.83,37.17 L89.01,38.03 L89.18,38.90 L89.36,39.76 L89.53,40.62 L89.71,41.49 L89.88,42.35 L90.06,43.21 L90.23,44.08 L90.41,44.94 L90.58,45.81 L90.76,46.67 L90.93,47.53 L91.11,48.40 L91.28,49.26 L91.46,50.12 L91.64,50.99 L91.81,51.85 L91.99,52.71 L92.17,53.58 L92.34,54.44 L92.52,55.30 L92.70,56.17 L92.88,57.03 L93.06,57.89 L93.23,58.76 L93.41,59.62 L93.59,60.48 L93.77,61.35 L93.95,62.21 L94.13,63.07 L94.31,63.93 L94.49,64.80 L94.67,65.66 L94.85,66.52 L95.03,67.39 L95.21,68.25 L95.40,69.11 L95.58,69.97 L95.76,70.84 L95.94,71.70 L96.13,72.56 L96.31,73.42 L96.50,74.29 L96.68,75.15 L96.86,76.01 L97.05,76.87 L97.23,77.73 L97.42,78.60 L97.61,79.46 L97.79,80.32 L97.98,81.18 L98.17,82.04 L98.36,82.90 L98.55,83.76 L98.73,84.62 L98.92,85.49 L99.11,86.35 L99.30,87.21 L99.49,88.07 L99.69,88.93 L99.88,89.79 L100.07,90.65 L100.26,91.51 L100.46,92.37 L100.65,93.23 L100.84,94.09 L101.04,94.95 L101.23,95.81 L101.43,96.67 L101.63,97.53 L101.82,98.39 L102.02,99.25 L102.22,100.10 L102.42,100.96 L102.62,101.82 L102.82,102.68 L103.02,103.54 L103.22,104.40 L103.42,105.25 L103.62,106.11 L103.82,106.97 L104.03,107.83 L104.23,108.68 L104.43,109.54 L104.64,110.40 L104.85,111.26 L105.05,112.11 L105.26,112.97 L105.47,113.82 L105.68,114.68 L105.88,115.54 L106.09,116.39 L106.30,117.25 L106.52,118.10 L106.73,118.96 L106.94,119.81 L107.15,120.67 L107.37,121.52 L107.58,122.38 L107.80,123.23 L108.01,124.08 L108.23,124.94 L108.45,125.79 L108.67,126.64 L108.89,127.50 L109.11,128.35 L109.33,129.20 L109.55,130.06 L109.77,130.91 L109.99,131.76 L110.22,132.61 L110.44,133.46 L110.67,134.31 L110.90,135.16 L111.12,136.01 L111.35,136.87 L111.58,137.72 L111.81,138.57 L112.04,139.42 L112.27,140.26 L112.50,141.11 L112.74,141.96 L112.97,142.81 L113.21,143.66 L113.44,144.51 L113.68,145.36 L113.92,146.20 L114.16,147.05 L114.39,147.90 L114.64,148.74 L114.88,149.59 L115.12,150.44 L115.36,151.28 L115.61,152.13 L115.85,152.97 L116.10,153.82 L116.34,154.66 L116.59,155.51 L116.84,156.35 L117.09,157.20 L117.34,158.04 L117.59,158.88 L117.85,159.73 L118.10,160.57 L118.36,161.41 L118.61,162.25 L118.87,163.10 L119.13,163.94 L119.39,164.78 L119.65,165.62 L119.91,166.46 L120.17,167.30 L120.43,168.14 L120.70,168.98 L120.96,169.82 L121.23,170.66 L121.50,171.50 L121.77,172.33 L122.04,173.17 L122.31,174.01 L122.58,174.85 L122.85,175.68 L123.13,176.52 L123.41,177.36 L123.68,178.19 L123.96,179.03 L124.24,179.86 L124.52,180.70 L124.80,181.53 L125.08,182.37 L125.37,183.20 L125.65,184.03 L125.94,184.87 L126.23,185.70 L126.51,186.53 L126.80,187.36 L127.10,188.19 L127.39,189.02 L127.68,189.85 L127.98,190.68 L128.27,191.51 L128.57,192.34 L128.87,193.17 L129.17,194.00 L129.47,194.83 L129.77,195.66 L130.07,196.48 L130.38,197.31 L130.69,198.14 L130.99,198.96 L131.30,199.79 L131.61,200.62 L131.92,201.44 L132.24,202.26 L132.55,203.09 L132.87,203.91 L133.18,204.74 L133.50,205.56 L133.82,206.38 L134.14,207.20 L134.46,208.02 L134.79,208.84 L135.11,209.67 L135.44,210.49 L135.77,211.31 L136.10,212.12 L136.43,212.94 L136.76,213.76 L137.09,214.58 L137.43,215.40 L137.77,216.21 L138.10,217.03 L138.44,217.85 L138.78,218.66 L139.12,219.48 L139.47,220.29 L139.81,221.10 L140.16,221.92 L140.51,222.73 L140.85,223.54 L141.20,224.35 L141.56,225.16 L141.91,225.97 L142.26,226.78 L142.62,227.59 L142.97,228.40 L143.33,229.21 L143.69,230.02 L144.05,230.82 L144.42,231.63 L144.78,232.43 L145.14,233.24 L145.51,234.04 L145.88,234.85 L146.25,235.65 L146.62,236.45 L146.99,237.25 L147.36,238.05 L147.74,238.85 L148.11,239.65 L148.49,240.45 L148.87,241.25 L149.25,242.04 L149.63,242.84 L150.01,243.64 L150.39,244.43 L150.78,245.22 L151.17,246.02 L151.55,246.81 L151.94,247.60 L152.33,248.39 L152.72,249.18 L153.12,249.97 L153.51,250.76 L153.91,251.55 L154.30,252.33 L154.70,253.12 L155.10,253.90 L155.51,254.69 L155.91,255.47 L156.32,256.25 L156.72,257.03 L157.13,257.80 L157.55,258.58 L157.96,259.35 L158.38,260.12 L158.80,260.89 L159.22,261.66 L159.65,262.43 L160.08,263.19 L160.51,263.95 L160.94,264.71 L161.38,265.47 L161.82,266.22 L162.27,266.97 L162.71,267.72 L163.17,268.47 L163.62,269.21 L164.08,269.95 L164.54,270.68 L165.01,271.42 L165.48,272.15 L165.96,272.87 L166.44,273.60 L166.92,274.32 L167.41,275.03 L167.90,275.74 L168.40,276.45 L168.90,277.16 L169.41,277.86 L169.93,278.55 L170.44,279.25 L170.97,279.93 L171.50,280.62 L172.03,281.30 L172.57,281.98 L173.11,282.65 L173.66,283.32 L174.21,283.99 L174.77,284.65 L175.33,285.31 L175.89,285.97 L176.46,286.63 L177.03,287.29 L177.60,287.94 L178.18,288.59 L178.76,289.24 L179.35,289.89 L179.94,290.54 L180.53,291.19 L181.12,291.84 L181.72,292.49 L182.32,293.14 L182.92,293.79 L183.52,294.44 L184.13,295.09 L184.73,295.74 L185.34,296.39 L185.95,297.04 L186.57,297.69 L187.18,298.35 L187.80,299.00 L188.42,299.65 L189.04,300.30 L189.66,300.95 L190.29,301.60 L190.91,302.25 L191.54,302.90 L192.18,303.54 L192.81,304.18 L193.45,304.82 L194.09,305.46 L194.73,306.09 L195.37,306.73 L196.02,307.35 L196.67,307.98 L197.32,308.60 L197.98,309.21 L198.64,309.83 L199.30,310.43 L199.96,311.04 L200.63,311.63 L201.30,312.23 L201.97,312.81 L202.65,313.40 L203.32,313.97 L204.01,314.55 L204.69,315.11 L205.38,315.67 L206.07,316.23 L206.76,316.78 L207.45,317.33 L208.15,317.87 L208.85,318.41 L209.55,318.94 L210.26,319.47 L210.97,319.99 L211.68,320.51 L212.39,321.02 L213.11,321.53 L213.83,322.03 L214.55,322.53 L215.27,323.02 L216.00,323.51 L216.73,324.00 L217.46,324.48 L218.19,324.95 L218.93,325.42 L219.67,325.89 L220.41,326.35 L221.15,326.81 L221.90,327.26 L222.64,327.71 L223.39,328.15 L224.15,328.59 L224.90,329.02 L225.66,329.45 L226.42,329.88 L227.18,330.30 L227.94,330.72 L228.71,331.13 L229.47,331.54 L230.24,331.95 L231.02,332.35 L231.79,332.75 L232.57,333.14 L233.34,333.53 L234.12,333.91 L234.91,334.29 L235.69,334.67 L236.48,335.04 L237.26,335.41 L238.05,335.78 L238.85,336.14 L239.64,336.49 L240.43,336.85 L241.23,337.20 L242.03,337.54 L242.83,337.88 L243.63,338.22 L244.44,338.56 L245.24,338.89 L246.05,339.22 L246.86,339.54 L247.67,339.86 L248.49,340.18 L249.30,340.49 L250.12,340.80 L250.93,341.10 L251.75,341.41 L252.57,341.71 L253.40,342.00 L254.22,342.29 L255.04,342.58 L255.87,342.87 L256.70,343.15 L257.53,343.43 L258.36,343.71 L259.19,343.98 L260.03,344.25 L260.86,344.51 L261.70,344.78 L262.54,345.04 L263.37,345.29 L264.21,345.55 L265.06,345.80 L265.90,346.05 L266.74,346.29 L267.59,346.53 L268.43,346.77 L269.28,347.01 L270.13,347.24 L270.98,347.47 L271.83,347.70 L272.68,347.93 L273.53,348.15 L274.39,348.37 L275.24,348.58 L276.10,348.80 L276.95,349.01 L277.81,349.22 L278.67,349.42 L279.53,349.63 L280.39,349.83 L281.25,350.03 L282.11,350.24 L282.98,350.44 L283.84,350.63 L284.70,350.83 L285.57,351.02 L286.44,351.22 L287.30,351.41 L288.17,351.59 L289.04,351.78 L289.91,351.97 L290.77,352.15 L291.64,352.33 L292.52,352.51 L293.39,352.68 L294.26,352.86 L295.13,353.03 L296.00,353.19 L296.88,353.36 L297.75,353.52 L298.62,353.67 L299.50,353.83 L300.37,353.97 L301.25,354.12 L302.12,354.26 L303.00,354.40 L303.88,354.54 L304.75,354.67 L305.63,354.80 L306.51,354.92 L307.38,355.05 L308.26,355.17 L309.14,355.28 L310.02,355.40 L310.90,355.51 L311.77,355.62 L312.65,355.73 L313.53,355.83 L314.41,355.94 L315.29,356.04 L316.17,356.14 L317.05,356.24 L317.93,356.34 L318.80,356.44 L319.68,356.54 L320.56,356.64 L321.44,356.74 L322.32,356.84 L323.20,356.94 L324.08,357.04 L324.96,357.14 L325.83,357.23 L326.71,357.33 L327.59,357.43 L328.47,357.52 L329.35,357.61 L330.23,357.70 L331.11,357.79 L331.99,357.88 L332.87,357.97 L333.74,358.06 L334.62,358.14 L335.50,358.22 L336.38,358.30 L337.26,358.38 L338.14,358.45 L339.02,358.52 L339.90,358.59 L340.77,358.66 L341.65,358.73 L342.53,358.79 L343.41,358.86 L344.29,358.92 L345.17,358.99 L346.05,359.05 L346.93,359.11 L347.80,359.18 L348.68,359.24 L349.56,359.30 L350.44,359.36 L351.32,359.42 L352.20,359.48 L353.08,359.54 L353.96,359.60 L354.83,359.66 L355.71,359.71 L356.59,359.77 L357.47,359.83 L358.35,359.88 L359.23,359.94 L360.11,359.99 L360.99,360.05 L361.86,360.10 L362.74,360.15 L363.62,360.20 L364.50,360.26 L365.38,360.31 L366.26,360.36 L367.14,360.41 L368.02,360.46 L368.89,360.50 L369.77,360.55 L370.65,360.60 L371.53,360.65 L372.41,360.69 L373.29,360.74 L374.17,360.78 L375.05,360.83 L375.93,360.87 L376.80,360.92 L377.68,360.96 L378.56,361.00 L379.44,361.04 L380.32,361.08 L381.20,361.12 L382.08,361.16 L382.96,361.20 L383.84,361.24 L384.71,361.28 L385.59,361.32 L386.47,361.36 L387.35,361.39 L388.23,361.43 L389.11,361.46 L389.99,361.50 L390.87,361.53 L391.75,361.57 L392.63,361.60 L393.50,361.64 L394.38,361.67 L395.26,361.70 L396.14,361.74 L397.02,361.77 L397.90,361.80 L398.78,361.83 L399.66,361.86 L400.54,361.89 L401.42,361.93 L402.30,361.96 L403.17,361.99 L404.05,362.02 L404.93,362.04 L405.81,362.07 L406.69,362.10 L407.57,362.13 L408.45,362.16 L409.33,362.18 L410.21,362.21 L411.09,362.24 L411.97,362.26 L412.85,362.29 L413.73,362.31 L414.61,362.34 L415.48,362.36 L416.36,362.38 L417.24,362.41 L418.12,362.43 L419.00,362.45 L419.88,362.47 L420.76,362.49 L421.64,362.51 L422.52,362.53 L423.40,362.55 L424.28,362.57 L425.16,362.58 L426.04,362.60 L426.92,362.62 L427.80,362.63 L428.68,362.65 L429.56,362.66 L430.44,362.68 L431.32,362.69 L432.20,362.71 L433.08,362.72 L433.96,362.74 L434.84,362.75 L435.72,362.77 L436.60,362.78 L437.48,362.79 L438.36,362.81 L439.24,362.82 L440.12,362.83 L441.00,362.84 L441.88,362.86 L442.76,362.87 L443.64,362.88 L444.52,362.89 L445.40,362.91 L446.28,362.92 L447.16,362.93 L448.04,362.94 L448.92,362.95 L449.80,362.96 L450.68,362.97 L451.56,362.98 L452.44,362.99 L453.32,363.00 L454.20,363.02 L455.08,363.03 L455.96,363.04 L456.84,363.05 L457.72,363.06 L458.60,363.07 L459.48,363.08 L460.36,363.09 L461.24,363.10 L462.12,363.11 L463.00,363.12 L463.88,363.12 L464.76,363.13 L465.65,363.14 L466.53,363.15 L467.41,363.16 L468.29,363.17 L469.17,363.18 L470.05,363.19 L470.93,363.20 L471.81,363.21 L472.69,363.22 L473.57,363.23 L474.45,363.24 L475.33,363.25 L476.22,363.26 L477.10,363.27 L477.98,363.28 L478.86,363.29 L479.74,363.30 L480.62,363.31 L481.50,363.32 L482.38,363.33 L483.27,363.34 L484.15,363.35 L485.03,363.36 L485.91,363.37 L486.79,363.38 L487.67,363.40 L488.55,363.41 L489.44,363.42 L490.32,363.43 L491.20,363.44 L492.08,363.45 L492.96,363.47 L493.84,363.48 L494.73,363.49 L495.61,363.50 L496.49,363.51 L497.37,363.52 L498.25,363.53 L499.13,363.54 L500.02,363.55 L500.90,363.56 L501.78,363.56 L502.66,363.57 L503.54,363.58 L504.43,363.58 L505.31,363.59 L506.19,363.59 L507.07,363.59 L507.95,363.60 L508.84,363.60 L509.72,363.60 L510.60,363.60 L511.48,363.60 L512.36,363.60 L513.25,363.60 L514.13,363.60 L515.01,363.60 L515.89,363.60 L516.77,363.60 L517.66,363.60 L518.54,363.60 L519.42,363.60 L520.30,363.60 L521.19,363.60 L522.07,363.60 L522.95,363.60 L523.83,363.60 L524.72,363.60 L525.60,363.60 L526.48,363.60 L527.36,363.60 L528.24,363.60 L529.13,363.60 L530.01,363.60 L530.89,363.60 L531.77,363.60 L532.66,363.60 L533.54,363.60 L534.42,363.60 L535.30,363.60 L536.19,363.60 L537.07,363.60 L537.95,363.60 L538.83,363.60 L539.72,363.60 L540.60,363.60 L541.48,363.60 L542.36,363.60 L543.25,363.60 L544.13,363.60 L545.01,363.60 L545.89,363.60 L546.78,363.60 L547.66,363.60 L548.54,363.60 L549.42,363.60 L550.30,363.60 L551.19,363.60 L552.07,363.60 L552.95,363.60 L553.83,363.60 L554.72,363.60 L555.60,363.60 L556.48,363.60 L557.36,363.60 L558.25,363.60 L559.13,363.60 L560.01,363.60 L560.89,363.60 L561.78,363.60 L562.66,363.60 L563.54,363.60 L564.42,363.60 L565.31,363.60 L566.19,363.60 L567.07,363.60 L567.95,363.60 L568.84,363.60 L569.72,363.60 L570.60,363.60 L571.48,363.60 L572.36,363.60 L573.25,363.60 L574.13,363.60 L575.01,363.60 L575.89,363.60 L576.78,363.60 L577.66,363.60 L578.54,363.60 L579.42,363.60 L580.30,363.60 L581.19,363.60 L582.07,363.60 L582.95,363.60 L583.83,363.60 L584.71,363.60 L585.60,363.60 L586.48,363.60 L587.36,363.60 L588.24,363.60 L589.12,363.60 L590.01,363.60 L590.89,363.60 L591.77,363.60 L592.65,363.60 L593.53,363.60 L594.42,363.60 L595.30,363.60 L596.18,363.60 L597.06,363.60 L597.94,363.60 L598.82,363.60 L599.71,363.60 L600.59,363.60 L601.47,363.60 L602.35,363.60 L603.23,363.60 L604.11,363.60 L605.00,363.60 L605.88,363.60 L606.76,363.60 L607.64,363.60 L608.52,363.60 L609.40,363.60 L610.28,363.60 L611.17,363.60 L612.05,363.60 L612.93,363.60 L613.81,363.60 L614.69,363.60 L615.57,363.60 L616.45,363.60 L617.33,363.60 L618.21,363.60 L619.10,363.60 L619.98,363.60 L620.86,363.60 L621.74,363.60 L622.62,363.60 L623.50,363.60 L624.38,363.60 L625.26,363.60 L626.14,363.60 L627.02,363.60 L627.90,363.60 L628.78,363.60 L629.66,363.60 L630.55,363.60 L631.43,363.60 L632.31,363.60 L633.19,363.60 L634.07,363.60 L634.95,363.60 L635.83,363.60 L636.71,363.60 L637.59,363.60 L638.47,363.60 L639.35,363.60 L640.23,363.60 L641.11,363.60 L641.99,363.60 L642.87,363.60 L643.75,363.60 L644.63,363.60 L645.51,363.60 L646.39,363.60 L647.27,363.60 L648.15,363.60 L649.03,363.60 L649.91,363.60 L650.78,363.60 L651.66,363.60 L652.54,363.60 L653.42,363.60 L654.30,363.60 L655.18,363.60 L656.06,363.60 L656.94,363.60 L657.82,363.60 L658.70,363.60 L659.58,363.60 L660.46,363.60 L661.33,363.60 L662.21,363.60 L663.09,363.60 L663.97,363.60 L664.85,363.60 L665.73,363.60 L666.61,363.60 L667.48,363.60 L668.36,363.60 L669.24,363.60 L670.12,363.60 L671.00,363.60" stroke="#00ff00" stroke-width="2.3" fill="none" stroke-linejoin="round" shape-rendering="crispEdges"/>
<path d="M86.80,11.10 L87.06,11.96 L87.28,12.81 L87.50,13.67 L87.71,14.52 L87.93,15.38 L88.15,16.24 L88.37,17.09 L88.58,17.95 L88.80,18.81 L89.02,19.66 L89.23,20.52 L89.45,21.38 L89.67,22.24 L89.88,23.09 L90.10,23.95 L90.31,24.81 L90.53,25.66 L90.75,26.52 L90.96,27.38 L91.18,28.24 L91.39,29.10 L91.61,29.95 L91.83,30.81 L92.04,31.67 L92.26,32.53 L92.47,33.38 L92.69,34.24 L92.90,35.10 L93.12,35.96 L93.33,36.82 L93.55,37.67 L93.77,38.53 L93.98,39.39 L94.20,40.25 L94.41,41.11 L94.63,41.97 L94.84,42.82 L95.06,43.68 L95.28,44.54 L95.49,45.40 L95.71,46.26 L95.92,47.12 L96.14,47.97 L96.36,48.83 L96.57,49.69 L96.79,50.55 L97.01,51.41 L97.22,52.27 L97.44,53.12 L97.66,53.98 L97.87,54.84 L98.09,55.70 L98.31,56.56 L98.53,57.41 L98.74,58.27 L98.96,59.13 L99.18,59.99 L99.40,60.85 L99.62,61.71 L99.84,62.56 L100.06,63.42 L100.27,64.28 L100.49,65.14 L100.71,65.99 L100.93,66.85 L101.15,67.71 L101.37,68.57 L101.59,69.42 L101.82,70.28 L102.04,71.14 L102.26,72.00 L102.48,72.85 L102.70,73.71 L102.92,74.57 L103.15,75.43 L103.37,76.28 L103.59,77.14 L103.82,78.00 L104.04,78.85 L104.26,79.71 L104.49,80.57 L104.71,81.42 L104.94,82.28 L105.17,83.13 L105.39,83.99 L105.62,84.85 L105.84,85.70 L106.07,86.56 L106.30,87.41 L106.53,88.27 L106.76,89.12 L106.98,89.98 L107.21,90.83 L107.44,91.69 L107.67,92.54 L107.90,93.40 L108.14,94.25 L108.37,95.11 L108.60,95.96 L108.83,96.82 L109.06,97.67 L109.30,98.52 L109.53,99.38 L109.77,100.23 L110.00,101.09 L110.24,101.94 L110.47,102.79 L110.71,103.64 L110.95,104.50 L111.18,105.35 L111.42,106.20 L111.66,107.05 L111.90,107.91 L112.14,108.76 L112.38,109.61 L112.62,110.46 L112.86,111.31 L113.10,112.16 L113.35,113.01 L113.59,113.87 L113.83,114.72 L114.08,115.57 L114.32,116.42 L114.57,117.27 L114.81,118.12 L115.06,118.97 L115.31,119.82 L115.56,120.66 L115.81,121.51 L116.06,122.36 L116.31,123.21 L116.56,124.06 L116.81,124.91 L117.06,125.75 L117.32,126.60 L117.57,127.45 L117.82,128.30 L118.08,129.14 L118.33,129.99 L118.59,130.84 L118.85,131.68 L119.11,132.53 L119.37,133.37 L119.63,134.22 L119.89,135.06 L120.15,135.91 L120.41,136.75 L120.67,137.60 L120.94,138.44 L121.20,139.28 L121.47,140.13 L121.73,140.97 L122.00,141.81 L122.27,142.66 L122.54,143.50 L122.81,144.34 L123.08,145.18 L123.35,146.02 L123.62,146.86 L123.89,147.71 L124.17,148.55 L124.44,149.39 L124.72,150.23 L124.99,151.07 L125.27,151.90 L125.55,152.74 L125.83,153.58 L126.11,154.42 L126.39,155.26 L126.67,156.10 L126.95,156.93 L127.24,157.77 L127.52,158.61 L127.81,159.44 L128.10,160.28 L128.38,161.12 L128.67,161.95 L128.96,162.79 L129.25,163.62 L129.54,164.46 L129.84,165.29 L130.13,166.12 L130.43,166.96 L130.72,167.79 L131.02,168.62 L131.32,169.45 L131.62,170.29 L131.92,171.12 L132.22,171.95 L132.52,172.78 L132.82,173.61 L133.13,174.44 L133.43,175.27 L133.74,176.10 L134.05,176.93 L134.36,177.76 L134.67,178.58 L134.98,179.41 L135.29,180.24 L135.60,181.06 L135.92,181.89 L136.23,182.72 L136.55,183.54 L136.87,184.37 L137.19,185.19 L137.51,186.02 L137.83,186.84 L138.15,187.66 L138.47,188.49 L138.80,189.31 L139.13,190.13 L139.45,190.95 L139.78,191.78 L140.11,192.60 L140.44,193.42 L140.78,194.24 L141.11,195.06 L141.44,195.88 L141.78,196.69 L142.12,197.51 L142.46,198.33 L142.80,199.15 L143.14,199.97 L143.48,200.78 L143.82,201.60 L144.17,202.41 L144.52,203.23 L144.86,204.04 L145.21,204.86 L145.56,205.67 L145.92,206.48 L146.27,207.30 L146.62,208.11 L146.98,208.92 L147.34,209.73 L147.70,210.54 L148.06,211.35 L148.42,212.16 L148.78,212.97 L149.15,213.78 L149.51,214.59 L149.88,215.40 L150.25,216.20 L150.62,217.01 L150.99,217.81 L151.36,218.62 L151.74,219.42 L152.12,220.23 L152.49,221.03 L152.87,221.83 L153.25,222.63 L153.64,223.43 L154.02,224.23 L154.41,225.03 L154.80,225.83 L155.19,226.63 L155.58,227.42 L155.97,228.22 L156.36,229.01 L156.76,229.81 L157.16,230.60 L157.56,231.39 L157.96,232.18 L158.36,232.97 L158.77,233.76 L159.18,234.55 L159.59,235.34 L160.00,236.12 L160.41,236.91 L160.83,237.69 L161.24,238.47 L161.66,239.25 L162.08,240.03 L162.50,240.81 L162.93,241.59 L163.36,242.37 L163.78,243.14 L164.22,243.92 L164.65,244.69 L165.08,245.46 L165.52,246.23 L165.96,247.00 L166.40,247.77 L166.84,248.53 L167.29,249.30 L167.74,250.06 L168.18,250.82 L168.64,251.58 L169.09,252.34 L169.55,253.10 L170.01,253.86 L170.47,254.61 L170.93,255.36 L171.39,256.12 L171.86,256.87 L172.33,257.61 L172.80,258.36 L173.28,259.11 L173.76,259.85 L174.24,260.59 L174.72,261.33 L175.20,262.07 L175.69,262.81 L176.18,263.54 L176.67,264.28 L177.16,265.01 L177.66,265.74 L178.16,266.46 L178.66,267.19 L179.16,267.92 L179.67,268.64 L180.18,269.36 L180.69,270.08 L181.20,270.79 L181.72,271.51 L182.24,272.22 L182.76,272.93 L183.29,273.64 L183.81,274.35 L184.34,275.05 L184.88,275.76 L185.41,276.46 L185.95,277.16 L186.49,277.85 L187.04,278.55 L187.58,279.24 L188.13,279.93 L188.68,280.62 L189.24,281.31 L189.80,281.99 L190.36,282.67 L190.92,283.35 L191.49,284.03 L192.06,284.70 L192.63,285.38 L193.20,286.05 L193.78,286.71 L194.36,287.38 L194.95,288.04 L195.53,288.70 L196.12,289.36 L196.72,290.02 L197.31,290.67 L197.91,291.32 L198.51,291.97 L199.12,292.62 L199.72,293.26 L200.33,293.90 L200.95,294.54 L201.56,295.18 L202.18,295.81 L202.80,296.44 L203.43,297.07 L204.05,297.69 L204.68,298.31 L205.32,298.93 L205.95,299.55 L206.59,300.16 L207.23,300.78 L207.87,301.38 L208.52,301.99 L209.17,302.59 L209.82,303.19 L210.48,303.79 L211.13,304.38 L211.79,304.97 L212.46,305.56 L213.12,306.15 L213.79,306.73 L214.46,307.31 L215.13,307.88 L215.81,308.45 L216.49,309.02 L217.17,309.59 L217.85,310.15 L218.54,310.71 L219.23,311.27 L219.92,311.82 L220.61,312.37 L221.31,312.92 L222.01,313.46 L222.71,314.00 L223.41,314.54 L224.12,315.07 L224.83,315.60 L225.54,316.13 L226.25,316.65 L226.97,317.17 L227.69,317.69 L228.41,318.20 L229.13,318.71 L229.86,319.22 L230.59,319.72 L231.32,320.22 L232.05,320.71 L232.79,321.20 L233.53,321.69 L234.27,322.17 L235.01,322.66 L235.76,323.13 L236.50,323.61 L237.25,324.08 L238.00,324.54 L238.76,325.00 L239.51,325.46 L240.27,325.92 L241.03,326.37 L241.80,326.82 L242.56,327.26 L243.33,327.70 L244.10,328.14 L244.87,328.57 L245.64,329.00 L246.42,329.43 L247.19,329.85 L247.97,330.27 L248.75,330.69 L249.53,331.10 L250.32,331.51 L251.11,331.91 L251.89,332.31 L252.68,332.71 L253.48,333.10 L254.27,333.49 L255.06,333.88 L255.86,334.26 L256.66,334.64 L257.46,335.02 L258.26,335.39 L259.07,335.75 L259.87,336.12 L260.68,336.48 L261.49,336.84 L262.30,337.19 L263.11,337.54 L263.93,337.88 L264.74,338.22 L265.56,338.56 L266.37,338.90 L267.19,339.23 L268.02,339.55 L268.84,339.88 L269.66,340.20 L270.49,340.51 L271.31,340.82 L272.14,341.13 L272.97,341.44 L273.80,341.74 L274.63,342.03 L275.46,342.33 L276.30,342.62 L277.13,342.90 L277.97,343.18 L278.81,343.46 L279.65,343.74 L280.49,344.01 L281.33,344.28 L282.17,344.55 L283.01,344.81 L283.86,345.07 L284.70,345.32 L285.55,345.57 L286.40,345.82 L287.25,346.07 L288.10,346.31 L288.95,346.55 L289.80,346.78 L290.65,347.02 L291.50,347.25 L292.36,347.47 L293.21,347.70 L294.07,347.92 L294.92,348.14 L295.78,348.35 L296.64,348.57 L297.50,348.78 L298.36,348.98 L299.22,349.19 L300.08,349.39 L300.94,349.59 L301.81,349.78 L302.67,349.98 L303.54,350.17 L304.40,350.36 L305.27,350.55 L306.13,350.74 L307.00,350.92 L307.87,351.11 L308.74,351.29 L309.61,351.46 L310.48,351.64 L311.35,351.81 L312.22,351.98 L313.09,352.15 L313.96,352.32 L314.83,352.48 L315.71,352.64 L316.58,352.80 L317.45,352.95 L318.33,353.11 L319.20,353.25 L320.08,353.40 L320.95,353.54 L321.83,353.68 L322.70,353.81 L323.58,353.95 L324.46,354.08 L325.34,354.21 L326.21,354.34 L327.09,354.47 L327.97,354.59 L328.85,354.71 L329.73,354.83 L330.60,354.95 L331.48,355.07 L332.36,355.19 L333.24,355.30 L334.12,355.41 L335.00,355.52 L335.88,355.63 L336.76,355.73 L337.64,355.83 L338.52,355.94 L339.40,356.03 L340.28,356.13 L341.16,356.23 L342.04,356.32 L342.92,356.42 L343.80,356.51 L344.69,356.60 L345.57,356.70 L346.45,356.79 L347.33,356.88 L348.21,356.97 L349.09,357.06 L349.97,357.15 L350.85,357.24 L351.73,357.33 L352.61,357.42 L353.49,357.51 L354.37,357.59 L355.26,357.68 L356.14,357.76 L357.02,357.85 L357.90,357.93 L358.78,358.02 L359.66,358.10 L360.54,358.18 L361.42,358.26 L362.31,358.34 L363.19,358.42 L364.07,358.50 L364.95,358.58 L365.83,358.65 L366.71,358.73 L367.60,358.80 L368.48,358.88 L369.36,358.95 L370.24,359.02 L371.12,359.09 L372.00,359.17 L372.89,359.24 L373.77,359.30 L374.65,359.37 L375.53,359.44 L376.41,359.51 L377.30,359.57 L378.18,359.64 L379.06,359.70 L379.94,359.76 L380.83,359.82 L381.71,359.88 L382.59,359.94 L383.47,360.00 L384.35,360.06 L385.24,360.11 L386.12,360.17 L387.00,360.22 L387.88,360.28 L388.77,360.33 L389.65,360.38 L390.53,360.43 L391.42,360.48 L392.30,360.53 L393.18,360.58 L394.06,360.62 L394.95,360.67 L395.83,360.72 L396.71,360.77 L397.60,360.81 L398.48,360.86 L399.36,360.90 L400.24,360.95 L401.13,360.99 L402.01,361.03 L402.89,361.07 L403.78,361.12 L404.66,361.16 L405.54,361.20 L406.43,361.24 L407.31,361.28 L408.19,361.32 L409.08,361.36 L409.96,361.39 L410.84,361.43 L411.73,361.47 L412.61,361.50 L413.49,361.54 L414.38,361.57 L415.26,361.61 L416.14,361.64 L417.03,361.67 L417.91,361.71 L418.80,361.74 L419.68,361.77 L420.56,361.80 L421.45,361.83 L422.33,361.86 L423.21,361.89 L424.10,361.91 L424.98,361.94 L425.87,361.97 L426.75,361.99 L427.63,362.02 L428.52,362.04 L429.40,362.07 L430.29,362.09 L431.17,362.11 L432.05,362.14 L432.94,362.16 L433.82,362.18 L434.71,362.20 L435.59,362.22 L436.47,362.24 L437.36,362.26 L438.24,362.28 L439.13,362.30 L440.01,362.32 L440.90,362.34 L441.78,362.36 L442.67,362.38 L443.55,362.40 L444.43,362.42 L445.32,362.43 L446.20,362.45 L447.09,362.47 L447.97,362.48 L448.86,362.50 L449.74,362.52 L450.63,362.53 L451.51,362.55 L452.39,362.57 L453.28,362.58 L454.16,362.60 L455.05,362.61 L455.93,362.63 L456.82,362.65 L457.70,362.66 L458.59,362.68 L459.47,362.69 L460.36,362.71 L461.24,362.72 L462.13,362.74 L463.01,362.75 L463.90,362.77 L464.78,362.78 L465.67,362.80 L466.55,362.81 L467.44,362.83 L468.32,362.84 L469.21,362.86 L470.09,362.87 L470.98,362.88 L471.86,362.90 L472.75,362.91 L473.63,362.93 L474.52,362.94 L475.40,362.96 L476.29,362.97 L477.17,362.98 L478.06,363.00 L478.94,363.01 L479.83,363.02 L480.71,363.04 L481.60,363.05 L482.48,363.06 L483.37,363.08 L484.25,363.09 L485.14,363.10 L486.02,363.12 L486.91,363.13 L487.79,363.14 L488.68,363.15 L489.56,363.17 L490.45,363.18 L491.33,363.19 L492.22,363.20 L493.10,363.21 L493.99,363.23 L494.88,363.24 L495.76,363.25 L496.65,363.26 L497.53,363.27 L498.42,363.28 L499.30,363.29 L500.19,363.30 L501.07,363.31 L501.96,363.32 L502.84,363.33 L503.73,363.34 L504.61,363.35 L505.50,363.36 L506.39,363.37 L507.27,363.37 L508.16,363.38 L509.04,363.39 L509.93,363.40 L510.81,363.41 L511.70,363.42 L512.58,363.42 L513.47,363.43 L514.36,363.44 L515.24,363.45 L516.13,363.46 L517.01,363.46 L517.90,363.47 L518.78,363.48 L519.67,363.49 L520.55,363.50 L521.44,363.50 L522.32,363.51 L523.21,363.52 L524.10,363.53 L524.98,363.53 L525.87,363.54 L526.75,363.55 L527.64,363.55 L528.52,363.56 L529.41,363.56 L530.30,363.57 L531.18,363.57 L532.07,363.58 L532.95,363.58 L533.84,363.59 L534.72,363.59 L535.61,363.59 L536.49,363.60 L537.38,363.60 L538.27,363.60 L539.15,363.60 L540.04,363.60 L540.92,363.60 L541.81,363.60 L542.69,363.60 L543.58,363.60 L544.46,363.60 L545.35,363.60 L546.24,363.60 L547.12,363.60 L548.01,363.60 L548.89,363.60 L549.78,363.60 L550.66,363.60 L551.55,363.60 L552.43,363.60 L553.32,363.60 L554.21,363.60 L555.09,363.60 L555.98,363.60 L556.86,363.60 L557.75,363.60 L558.63,363.60 L559.52,363.60 L560.40,363.60 L561.29,363.60 L562.18,363.60 L563.06,363.60 L563.95,363.60 L564.83,363.60 L565.72,363.60 L566.60,363.60 L567.49,363.60 L568.37,363.60 L569.26,363.60 L570.14,363.60 L571.03,363.60 L571.92,363.60 L572.80,363.60 L573.69,363.60 L574.57,363.60 L575.46,363.60 L576.34,363.60 L577.23,363.60 L578.11,363.60 L579.00,363.60 L579.88,363.60 L580.77,363.60 L581.65,363.60 L582.54,363.60 L583.43,363.60 L584.31,363.60 L585.20,363.60 L586.08,363.60 L586.97,363.60 L587.85,363.60 L588.74,363.60 L589.62,363.60 L590.51,363.60 L591.39,363.60 L592.28,363.60 L593.16,363.60 L594.05,363.60 L594.93,363.60 L595.82,363.60 L596.70,363.60 L597.59,363.60 L598.47,363.60 L599.36,363.60 L600.24,363.60 L601.13,363.60 L602.01,363.60 L602.90,363.60 L603.78,363.60 L604.67,363.60 L605.55,363.60 L606.44,363.60 L607.32,363.60 L608.21,363.60 L609.09,363.60 L609.98,363.60 L610.86,363.60 L611.75,363.60 L612.63,363.60 L613.52,363.60 L614.40,363.60 L615.29,363.60 L616.17,363.60 L617.06,363.60 L617.94,363.60 L618.83,363.60 L619.71,363.60 L620.60,363.60 L621.48,363.60 L622.37,363.60 L623.25,363.60 L624.13,363.60 L625.02,363.60 L625.90,363.60 L626.79,363.60 L627.67,363.60 L628.56,363.60 L629.44,363.60 L630.33,363.60 L631.21,363.60 L632.09,363.60 L632.98,363.60 L633.86,363.60 L634.75,363.60 L635.63,363.60 L636.52,363.60 L637.40,363.60 L638.28,363.60 L639.17,363.60 L640.05,363.60 L640.94,363.60 L641.82,363.60 L642.71,363.60 L643.59,363.60 L644.47,363.60 L645.36,363.60 L646.24,363.60 L647.13,363.60 L648.01,363.60 L648.89,363.60 L649.78,363.60 L650.66,363.60 L651.55,363.60 L652.43,363.60 L653.31,363.60 L654.20,363.60 L655.08,363.60 L655.96,363.60 L656.85,363.60 L657.73,363.60 L658.61,363.60 L659.50,363.60 L660.38,363.60 L661.27,363.60 L662.15,363.60 L663.03,363.60 L663.92,363.60 L664.80,363.60 L665.68,363.60 L666.57,363.60 L667.45,363.60 L668.33,363.60 L669.22,363.60 L670.10,363.60 L671.00,363.60" stroke="#0000ff" stroke-width="3.3" stroke-opacity="0.4" fill="none" stroke-linejoin="round"/>
<path d="M86.80,11.10 L87.06,11.96 L87.28,12.81 L87.50,13.67 L87.71,14.52 L87.93,15.38 L88.15,16.24 L88.37,17.09 L88.58,17.95 L88.80,18.81 L89.02,19.66 L89.23,20.52 L89.45,21.38 L89.67,22.24 L89.88,23.09 L90.10,23.95 L90.31,24.81 L90.53,25.66 L90.75,26.52 L90.96,27.38 L91.18,28.24 L91.39,29.10 L91.61,29.95 L91.83,30.81 L92.04,31.67 L92.26,32.53 L92.47,33.38 L92.69,34.24 L92.90,35.10 L93.12,35.96 L93.33,36.82 L93.55,37.67 L93.77,38.53 L93.98,39.39 L94.20,40.25 L94.41,41.11 L94.63,41.97 L94.84,42.82 L95.06,43.68 L95.28,44.54 L95.49,45.40 L95.71,46.26 L95.92,47.12 L96.14,47.97 L96.36,48.83 L96.57,49.69 L96.79,50.55 L97.01,51.41 L97.22,52.27 L97.44,53.12 L97.66,53.98 L97.87,54.84 L98.09,55.70 L98.31,56.56 L98.53,57.41 L98.74,58.27 L98.96,59.13 L99.18,59.99 L99.40,60.85 L99.62,61.71 L99.84,62.56 L100.06,63.42 L100.27,64.28 L100.49,65.14 L100.71,65.99 L100.93,66.85 L101.15,67.71 L101.37,68.57 L101.59,69.42 L101.82,70.28 L102.04,71.14 L102.26,72.00 L102.48,72.85 L102.70,73.71 L102.92,74.57 L103.15,75.43 L103.37,76.28 L103.59,77.14 L103.82,78.00 L104.04,78.85 L104.26,79.71 L104.49,80.57 L104.71,81.42 L104.94,82.28 L105.17,83.13 L105.39,83.99 L105.62,84.85 L105.84,85.70 L106.07,86.56 L106.30,87.41 L106.53,88.27 L106.76,89.12 L106.98,89.98 L107.21,90.83 L107.44,91.69 L107.67,92.54 L107.90,93.40 L108.14,94.25 L108.37,95.11 L108.60,95.96 L108.83,96.82 L109.06,97.67 L109.30,98.52 L109.53,99.38 L109.77,100.23 L110.00,101.09 L110.24,101.94 L110.47,102.79 L110.71,103.64 L110.95,104.50 L111.18,105.35 L111.42,106.20 L111.66,107.05 L111.90,107.91 L112.14,108.76 L112.38,109.61 L112.62,110.46 L112.86,111.31 L113.10,112.16 L113.35,113.01 L113.59,113.87 L113.83,114.72 L114.08,115.57 L114.32,116.42 L114.57,117.27 L114.81,118.12 L115.06,118.97 L115.31,119.82 L115.56,120.66 L115.81,121.51 L116.06,122.36 L116.31,123.21 L116.56,124.06 L116.81,124.91 L117.06,125.75 L117.32,126.60 L117.57,127.45 L117.82,128.30 L118.08,129.14 L118.33,129.99 L118.59,130.84 L118.85,131.68 L119.11,132.53 L119.37,133.37 L119.63,134.22 L119.89,135.06 L120.15,135.91 L120.41,136.75 L120.67,137.60 L120.94,138.44 L121.20,139.28 L121.47,140.13 L121.73,140.97 L122.00,141.81 L122.27,142.66 L122.54,143.50 L122.81,144.34 L123.08,145.18 L123.35,146.02 L123.62,146.86 L123.89,147.71 L124.17,148.55 L124.44,149.39 L124.72,150.23 L124.99,151.07 L125.27,151.90 L125.55,152.74 L125.83,153.58 L126.11,154.42 L126.39,155.26 L126.67,156.10 L126.95,156.93 L127.24,157.77 L127.52,158.61 L127.81,159.44 L128.10,160.28 L128.38,161.12 L128.67,161.95 L128.96,162.79 L129.25,163.62 L129.54,164.46 L129.84,165.29 L130.13,166.12 L130.43,166.96 L130.72,167.79 L131.02,168.62 L131.32,169.45 L131.62,170.29 L131.92,171.12 L132.22,171.95 L132.52,172.78 L132.82,173.61 L133.13,174.44 L133.43,175.27 L133.74,176.10 L134.05,176.93 L134.36,177.76 L134.67,178.58 L134.98,179.41 L135.29,180.24 L135.60,181.06 L135.92,181.89 L136.23,182.72 L136.55,183.54 L136.87,184.37 L137.19,185.19 L137.51,186.02 L137.83,186.84 L138.15,187.66 L138.47,188.49 L138.80,189.31 L139.13,190.13 L139.45,190.95 L139.78,191.78 L140.11,192.60 L140.44,193.42 L140.78,194.24 L141.11,195.06 L141.44,195.88 L141.78,196.69 L142.12,197.51 L142.46,198.33 L142.80,199.15 L143.14,199.97 L143.48,200.78 L143.82,201.60 L144.17,202.41 L144.52,203.23 L144.86,204.04 L145.21,204.86 L145.56,205.67 L145.92,206.48 L146.27,207.30 L146.62,208.11 L146.98,208.92 L147.34,209.73 L147.70,210.54 L148.06,211.35 L148.42,212.16 L148.78,212.97 L149.15,213.78 L149.51,214.59 L149.88,215.40 L150.25,216.20 L150.62,217.01 L150.99,217.81 L151.36,218.62 L151.74,219.42 L152.12,220.23 L152.49,221.03 L152.87,221.83 L153.25,222.63 L153.64,223.43 L154.02,224.23 L154.41,225.03 L154.80,225.83 L155.19,226.63 L155.58,227.42 L155.97,228.22 L156.36,229.01 L156.76,229.81 L157.16,230.60 L157.56,231.39 L157.96,232.18 L158.36,232.97 L158.77,233.76 L159.18,234.55 L159.59,235.34 L160.00,236.12 L160.41,236.91 L160.83,237.69 L161.24,238.47 L161.66,239.25 L162.08,240.03 L162.50,240.81 L162.93,241.59 L163.36,242.37 L163.78,243.14 L164.22,243.92 L164.65,244.69 L165.08,245.46 L165.52,246.23 L165.96,247.00 L166.40,247.77 L166.84,248.53 L167.29,249.30 L167.74,250.06 L168.18,250.82 L168.64,251.58 L169.09,252.34 L169.55,253.10 L170.01,253.86 L170.47,254.61 L170.93,255.36 L171.39,256.12 L171.86,256.87 L172.33,257.61 L172.80,258.36 L173.28,259.11 L173.76,259.85 L174.24,260.59 L174.72,261.33 L175.20,262.07 L175.69,262.81 L176.18,263.54 L176.67,264.28 L177.16,265.01 L177.66,265.74 L178.16,266.46 L178.66,267.19 L179.16,267.92 L179.67,268.64 L180.18,269.36 L180.69,270.08 L181.20,270.79 L181.72,271.51 L182.24,272.22 L182.76,272.93 L183.29,273.64 L183.81,274.35 L184.34,275.05 L184.88,275.76 L185.41,276.46 L185.95,277.16 L186.49,277.85 L187.04,278.55 L187.58,279.24 L188.13,279.93 L188.68,280.62 L189.24,281.31 L189.80,281.99 L190.36,282.67 L190.92,283.35 L191.49,284.03 L192.06,284.70 L192.63,285.38 L193.20,286.05 L193.78,286.71 L194.36,287.38 L194.95,288.04 L195.53,288.70 L196.12,289.36 L196.72,290.02 L197.31,290.67 L197.91,291.32 L198.51,291.97 L199.12,292.62 L199.72,293.26 L200.33,293.90 L200.95,294.54 L201.56,295.18 L202.18,295.81 L202.80,296.44 L203.43,297.07 L204.05,297.69 L204.68,298.31 L205.32,298.93 L205.95,299.55 L206.59,300.16 L207.23,300.78 L207.87,301.38 L208.52,301.99 L209.17,302.59 L209.82,303.19 L210.48,303.79 L211.13,304.38 L211.79,304.97 L212.46,305.56 L213.12,306.15 L213.79,306.73 L214.46,307.31 L215.13,307.88 L215.81,308.45 L216.49,309.02 L217.17,309.59 L217.85,310.15 L218.54,310.71 L219.23,311.27 L219.92,311.82 L220.61,312.37 L221.31,312.92 L222.01,313.46 L222.71,314.00 L223.41,314.54 L224.12,315.07 L224.83,315.60 L225.54,316.13 L226.25,316.65 L226.97,317.17 L227.69,317.69 L228.41,318.20 L229.13,318.71 L229.86,319.22 L230.59,319.72 L231.32,320.22 L232.05,320.71 L232.79,321.20 L233.53,321.69 L234.27,322.17 L235.01,322.66 L235.76,323.13 L236.50,323.61 L237.25,324.08 L238.00,324.54 L238.76,325.00 L239.51,325.46 L240.27,325.92 L241.03,326.37 L241.80,326.82 L242.56,327.26 L243.33,327.70 L244.10,328.14 L244.87,328.57 L245.64,329.00 L246.42,329.43 L247.19,329.85 L247.97,330.27 L248.75,330.69 L249.53,331.10 L250.32,331.51 L251.11,331.91 L251.89,332.31 L252.68,332.71 L253.48,333.10 L254.27,333.49 L255.06,333.88 L255.86,334.26 L256.66,334.64 L257.46,335.02 L258.26,335.39 L259.07,335.75 L259.87,336.12 L260.68,336.48 L261.49,336.84 L262.30,337.19 L263.11,337.54 L263.93,337.88 L264.74,338.22 L265.56,338.56 L266.37,338.90 L267.19,339.23 L268.02,339.55 L268.84,339.88 L269.66,340.20 L270.49,340.51 L271.31,340.82 L272.14,341.13 L272.97,341.44 L273.80,341.74 L274.63,342.03 L275.46,342.33 L276.30,342.62 L277.13,342.90 L277.97,343.18 L278.81,343.46 L279.65,343.74 L280.49,344.01 L281.33,344.28 L282.17,344.55 L283.01,344.81 L283.86,345.07 L284.70,345.32 L285.55,345.57 L286.40,345.82 L287.25,346.07 L288.10,346.31 L288.95,346.55 L289.80,346.78 L290.65,347.02 L291.50,347.25 L292.36,347.47 L293.21,347.70 L294.07,347.92 L294.92,348.14 L295.78,348.35 L296.64,348.57 L297.50,348.78 L298.36,348.98 L299.22,349.19 L300.08,349.39 L300.94,349.59 L301.81,349.78 L302.67,349.98 L303.54,350.17 L304.40,350.36 L305.27,350.55 L306.13,350.74 L307.00,350.92 L307.87,351.11 L308.74,351.29 L309.61,351.46 L310.48,351.64 L311.35,351.81 L312.22,351.98 L313.09,352.15 L313.96,352.32 L314.83,352.48 L315.71,352.64 L316.58,352.80 L317.45,352.95 L318.33,353.11 L319.20,353.25 L320.08,353.40 L320.95,353.54 L321.83,353.68 L322.70,353.81 L323.58,353.95 L324.46,354.08 L325.34,354.21 L326.21,354.34 L327.09,354.47 L327.97,354.59 L328.85,354.71 L329.73,354.83 L330.60,354.95 L331.48,355.07 L332.36,355.19 L333.24,355.30 L334.12,355.41 L335.00,355.52 L335.88,355.63 L336.76,355.73 L337.64,355.83 L338.52,355.94 L339.40,356.03 L340.28,356.13 L341.16,356.23 L342.04,356.32 L342.92,356.42 L343.80,356.51 L344.69,356.60 L345.57,356.70 L346.45,356.79 L347.33,356.88 L348.21,356.97 L349.09,357.06 L349.97,357.15 L350.85,357.24 L351.73,357.33 L352.61,357.42 L353.49,357.51 L354.37,357.59 L355.26,357.68 L356.14,357.76 L357.02,357.85 L357.90,357.93 L358.78,358.02 L359.66,358.10 L360.54,358.18 L361.42,358.26 L362.31,358.34 L363.19,358.42 L364.07,358.50 L364.95,358.58 L365.83,358.65 L366.71,358.73 L367.60,358.80 L368.48,358.88 L369.36,358.95 L370.24,359.02 L371.12,359.09 L372.00,359.17 L372.89,359.24 L373.77,359.30 L374.65,359.37 L375.53,359.44 L376.41,359.51 L377.30,359.57 L378.18,359.64 L379.06,359.70 L379.94,359.76 L380.83,359.82 L381.71,359.88 L382.59,359.94 L383.47,360.00 L384.35,360.06 L385.24,360.11 L386.12,360.17 L387.00,360.22 L387.88,360.28 L388.77,360.33 L389.65,360.38 L390.53,360.43 L391.42,360.48 L392.30,360.53 L393.18,360.58 L394.06,360.62 L394.95,360.67 L395.83,360.72 L396.71,360.77 L397.60,360.81 L398.48,360.86 L399.36,360.90 L400.24,360.95 L401.13,360.99 L402.01,361.03 L402.89,361.07 L403.78,361.12 L404.66,361.16 L405.54,361.20 L406.43,361.24 L407.31,361.28 L408.19,361.32 L409.08,361.36 L409.96,361.39 L410.84,361.43 L411.73,361.47 L412.61,361.50 L413.49,361.54 L414.38,361.57 L415.26,361.61 L416.14,361.64 L417.03,361.67 L417.91,361.71 L418.80,361.74 L419.68,361.77 L420.56,361.80 L421.45,361.83 L422.33,361.86 L423.21,361.89 L424.10,361.91 L424.98,361.94 L425.87,361.97 L426.75,361.99 L427.63,362.02 L428.52,362.04 L429.40,362.07 L430.29,362.09 L431.17,362.11 L432.05,362.14 L432.94,362.16 L433.82,362.18 L434.71,362.20 L435.59,362.22 L436.47,362.24 L437.36,362.26 L438.24,362.28 L439.13,362.30 L440.01,362.32 L440.90,362.34 L441.78,362.36 L442.67,362.38 L443.55,362.40 L444.43,362.42 L445.32,362.43 L446.20,362.45 L447.09,362.47 L447.97,362.48 L448.86,362.50 L449.74,362.52 L450.63,362.53 L451.51,362.55 L452.39,362.57 L453.28,362.58 L454.16,362.60 L455.05,362.61 L455.93,362.63 L456.82,362.65 L457.70,362.66 L458.59,362.68 L459.47,362.69 L460.36,362.71 L461.24,362.72 L462.13,362.74 L463.01,362.75 L463.90,362.77 L464.78,362.78 L465.67,362.80 L466.55,362.81 L467.44,362.83 L468.32,362.84 L469.21,362.86 L470.09,362.87 L470.98,362.88 L471.86,362.90 L472.75,362.91 L473.63,362.93 L474.52,362.94 L475.40,362.96 L476.29,362.97 L477.17,362.98 L478.06,363.00 L478.94,363.01 L479.83,363.02 L480.71,363.04 L481.60,363.05 L482.48,363.06 L483.37,363.08 L484.25,363.09 L485.14,363.10 L486.02,363.12 L486.91,363.13 L487.79,363.14 L488.68,363.15 L489.56,363.17 L490.45,363.18 L491.33,363.19 L492.22,363.20 L493.10,363.21 L493.99,363.23 L494.88,363.24 L495.76,363.25 L496.65,363.26 L497.53,363.27 L498.42,363.28 L499.30,363.29 L500.19,363.30 L501.07,363.31 L501.96,363.32 L502.84,363.33 L503.73,363.34 L504.61,363.35 L505.50,363.36 L506.39,363.37 L507.27,363.37 L508.16,363.38 L509.04,363.39 L509.93,363.40 L510.81,363.41 L511.70,363.42 L512.58,363.42 L513.47,363.43 L514.36,363.44 L515.24,363.45 L516.13,363.46 L517.01,363.46 L517.90,363.47 L518.78,363.48 L519.67,363.49 L520.55,363.50 L521.44,363.50 L522.32,363.51 L523.21,363.52 L524.10,363.53 L524.98,363.53 L525.87,363.54 L526.75,363.55 L527.64,363.55 L528.52,363.56 L529.41,363.56 L530.30,363.57 L531.18,363.57 L532.07,363.58 L532.95,363.58 L533.84,363.59 L534.72,363.59 L535.61,363.59 L536.49,363.60 L537.38,363.60 L538.27,363.60 L539.15,363.60 L540.04,363.60 L540.92,363.60 L541.81,363.60 L542.69,363.60 L543.58,363.60 L544.46,363.60 L545.35,363.60 L546.24,363.60 L547.12,363.60 L548.01,363.60 L548.89,363.60 L549.78,363.60 L550.66,363.60 L551.55,363.60 L552.43,363.60 L553.32,363.60 L554.21,363.60 L555.09,363.60 L555.98,363.60 L556.86,363.60 L557.75,363.60 L558.63,363.60 L559.52,363.60 L560.40,363.60 L561.29,363.60 L562.18,363.60 L563.06,363.60 L563.95,363.60 L564.83,363.60 L565.72,363.60 L566.60,363.60 L567.49,363.60 L568.37,363.60 L569.26,363.60 L570.14,363.60 L571.03,363.60 L571.92,363.60 L572.80,363.60 L573.69,363.60 L574.57,363.60 L575.46,363.60 L576.34,363.60 L577.23,363.60 L578.11,363.60 L579.00,363.60 L579.88,363.60 L580.77,363.60 L581.65,363.60 L582.54,363.60 L583.43,363.60 L584.31,363.60 L585.20,363.60 L586.08,363.60 L586.97,363.60 L587.85,363.60 L588.74,363.60 L589.62,363.60 L590.51,363.60 L591.39,363.60 L592.28,363.60 L593.16,363.60 L594.05,363.60 L594.93,363.60 L595.82,363.60 L596.70,363.60 L597.59,363.60 L598.47,363.60 L599.36,363.60 L600.24,363.60 L601.13,363.60 L602.01,363.60 L602.90,363.60 L603.78,363.60 L604.67,363.60 L605.55,363.60 L606.44,363.60 L607.32,363.60 L608.21,363.60 L609.09,363.60 L609.98,363.60 L610.86,363.60 L611.75,363.60 L612.63,363.60 L613.52,363.60 L614.40,363.60 L615.29,363.60 L616.17,363.60 L617.06,363.60 L617.94,363.60 L618.83,363.60 L619.71,363.60 L620.60,363.60 L621.48,363.60 L622.37,363.60 L623.25,363.60 L624.13,363.60 L625.02,363.60 L625.90,363.60 L626.79,363.60 L627.67,363.60 L628.56,363.60 L629.44,363.60 L630.33,363.60 L631.21,363.60 L632.09,363.60 L632.98,363.60 L633.86,363.60 L634.75,363.60 L635.63,363.60 L636.52,363.60 L637.40,363.60 L638.28,363.60 L639.17,363.60 L640.05,363.60 L640.94,363.60 L641.82,363.60 L642.71,363.60 L643.59,363.60 L644.47,363.60 L645.36,363.60 L646.24,363.60 L647.13,363.60 L648.01,363.60 L648.89,363.60 L649.78,363.60 L650.66,363.60 L651.55,363.60 L652.43,363.60 L653.31,363.60 L654.20,363.60 L655.08,363.60 L655.96,363.60 L656.85,363.60 L657.73,363.60 L658.61,363.60 L659.50,363.60 L660.38,363.60 L661.27,363.60 L662.15,363.60 L663.03,363.60 L663.92,363.60 L664.80,363.60 L665.68,363.60 L666.57,363.60 L667.45,363.60 L668.33,363.60 L669.22,363.60 L670.10,363.60 L671.00,363.60" stroke="#0000ff" stroke-width="2.3" fill="none" stroke-linejoin="round" shape-rendering="crispEdges"/>
<path d="M122.3,294.1 L168.6,183.2" stroke="#4747a3" stroke-width="1.55" fill="none"/>
<path d="M177.6,162.8 L161.7,181.5 L168.6,183.0 L174.0,187.0 Z" fill="#343499"/>
<path d="M482,49.3 H618" stroke="#6464b0" stroke-width="1.5"/>
<g font-size="29.5"><text x="72" y="371.90" text-anchor="end">0.0</text><text x="72" y="286.90" text-anchor="end">0.2</text><text x="72" y="201.90" text-anchor="end">0.4</text><text x="72" y="116.90" text-anchor="end">0.6</text><text x="72" y="31.90" text-anchor="end">0.8</text><text x="171.76" y="404" text-anchor="middle">2</text><text x="271.52" y="404" text-anchor="middle">4</text><text x="371.28" y="404" text-anchor="middle">6</text><text x="471.04" y="404" text-anchor="middle">8</text><text x="570.80" y="404" text-anchor="middle">10</text><text x="670.56" y="404" text-anchor="middle">12</text></g>
<g transform="translate(22,212.3) rotate(-90)"><text x="-0.3" font-size="29.5" transform="scale(1.1,1)">f</text><text x="12.2" font-size="28" stroke="#000" stroke-width="0.5">'</text><text x="18.9" font-size="27.5">(<tspan font-style="italic">η</tspan>)</text></g>
<g font-size="29.2" fill="#ff00ff"><text x="282.1" y="62.1" >Ag</text><text x="348.4" y="62.1" >GO</text><text x="419.9" y="62.1" >EG</text></g>
<path d="M324.4,51.7H340M332.2,43.8V59.7" stroke="#ff00ff" stroke-width="1.45" fill="none"/>
<path d="M396.2,51.7H411.8M404.0,43.8V59.7" stroke="#ff00ff" stroke-width="1.45" fill="none"/>
<g font-size="29.2"><text x="240.2" y="121.5" >Ma</text><text x="312.8" y="121.5" >0.10,</text><text x="378.4" y="121.5" >0.50,</text><text x="444.0" y="121.5" >0.90,</text></g>
<path d="M288.7,111.7H304.2M288.7,117.2H304.2" stroke="#2a2a2a" stroke-width="1.35" fill="none"/>
<g font-size="29.2"><text x="241.2" y="162.4" font-style="italic" font-size="28.5">ϕ</text><text x="257.2" y="162.4" font-size="19.8" dy="4.9">1</text><text x="300.8" y="162.4" font-style="italic" font-size="28.5">ϕ</text><text x="315.6" y="162.4" font-size="19.8" dy="4.9">2</text><text x="361.4" y="162.4" >0.02,</text><text x="427.5" y="162.4" font-style="italic">λ</text><text x="475.8" y="162.4" >.10</text></g>
<path d="M276.7,152.6H292.2M276.7,157.8H292.2" stroke="#2a2a2a" stroke-width="1.35" fill="none"/>
<path d="M336.9,152.6H352.2M336.9,157.8H352.2" stroke="#2a2a2a" stroke-width="1.35" fill="none"/>
<path d="M450.2,152.6H465.5M450.2,157.8H465.5" stroke="#2a2a2a" stroke-width="1.35" fill="none"/>
</svg>
</body></html>
